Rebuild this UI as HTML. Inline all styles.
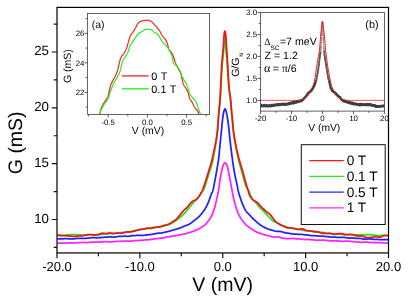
<!DOCTYPE html>
<html><head><meta charset="utf-8"><title>G vs V</title>
<style>html,body{margin:0;padding:0;background:#fff;overflow:hidden}body{width:409px;height:300px;font-family:"Liberation Sans",sans-serif}</style></head>
<body>
<svg width="409" height="300" viewBox="0 0 409 300" style="display:block">
<rect width="409" height="300" fill="#fff"/>
<defs><filter id="gs" x="0" y="0" width="409" height="300" filterUnits="userSpaceOnUse" color-interpolation-filters="sRGB"><feColorMatrix type="saturate" values="0"/></filter></defs>
<g font-family="Liberation Sans, sans-serif" fill="#000">
<rect x="87.4" y="13.55" width="122.19999999999999" height="100.95" fill="none" stroke="#484848" stroke-width="0.85"/>
<path d="M108.20,114.5 v3 M147.40,114.5 v3 M186.60,114.5 v3 M88.60,114.5 v1.8 M127.80,114.5 v1.8 M167.00,114.5 v1.8 M206.20,114.5 v1.8 M87.4,92.30 h-3 M87.4,62.80 h-3 M87.4,33.30 h-3 M87.4,107.05 h-1.8 M87.4,77.55 h-1.8 M87.4,48.05 h-1.8 M87.4,18.55 h-1.8" stroke="#333" stroke-width="0.8" fill="none"/>
<clipPath id="ca"><rect x="87.4" y="13.55" width="122.19999999999999" height="100.95"/></clipPath>
<g clip-path="url(#ca)" fill="none" stroke-width="1.2" stroke-linejoin="round">
<path d="M99.60,114.40 L99.85,113.28 L100.10,112.20 L100.35,111.18 L100.60,110.22 L100.85,109.35 L101.10,108.56 L101.35,107.87 L101.60,107.25 L101.85,106.69 L102.10,106.16 L102.35,105.68 L102.60,105.21 L102.85,104.77 L103.10,104.34 L103.35,103.91 L103.60,103.51 L103.85,103.12 L104.10,102.76 L104.35,102.41 L104.60,102.07 L104.85,101.73 L105.10,101.38 L105.35,101.02 L105.60,100.65 L105.85,100.25 L106.10,99.83 L106.35,99.41 L106.60,98.98 L106.85,98.54 L107.10,98.07 L107.35,97.56 L107.60,97.01 L107.85,96.40 L108.10,95.70 L108.35,94.81 L108.60,93.77 L108.85,92.65 L109.10,91.53 L109.35,90.50 L109.60,89.48 L109.85,88.43 L110.10,87.42 L110.35,86.46 L110.60,85.60 L110.85,84.87 L111.10,84.20 L111.35,83.57 L111.60,82.98 L111.85,82.43 L112.10,81.90 L112.35,81.39 L112.60,80.90 L112.85,80.42 L113.10,79.97 L113.35,79.56 L113.60,79.16 L113.85,78.78 L114.10,78.39 L114.35,77.98 L114.60,77.56 L114.85,77.10 L115.10,76.60 L115.35,76.10 L115.60,75.57 L115.85,75.03 L116.10,74.46 L116.35,73.87 L116.60,73.24 L116.85,72.58 L117.10,71.89 L117.35,71.15 L117.60,70.31 L117.85,69.38 L118.10,68.36 L118.35,67.31 L118.60,66.22 L118.85,65.15 L119.10,64.10 L119.35,63.10 L119.60,62.07 L119.85,60.99 L120.10,59.95 L120.35,59.01 L120.60,58.24 L120.85,57.68 L121.10,57.20 L121.35,56.77 L121.60,56.39 L121.85,56.04 L122.10,55.72 L122.35,55.43 L122.60,55.14 L122.85,54.85 L123.10,54.55 L123.35,54.24 L123.60,53.91 L123.85,53.54 L124.10,53.13 L124.35,52.72 L124.60,52.30 L124.85,51.86 L125.10,51.42 L125.35,50.96 L125.60,50.48 L125.85,49.97 L126.10,49.43 L126.35,48.86 L126.60,48.25 L126.85,47.59 L127.10,46.81 L127.35,45.94 L127.60,45.01 L127.85,44.07 L128.10,43.15 L128.35,42.26 L128.60,41.31 L128.85,40.33 L129.10,39.36 L129.35,38.43 L129.60,37.58 L129.85,36.86 L130.10,36.29 L130.35,35.79 L130.60,35.35 L130.85,34.94 L131.10,34.57 L131.35,34.22 L131.60,33.89 L131.85,33.56 L132.10,33.24 L132.35,32.92 L132.60,32.58 L132.85,32.23 L133.10,31.85 L133.35,31.46 L133.60,31.08 L133.85,30.69 L134.10,30.31 L134.35,29.92 L134.60,29.52 L134.85,29.11 L135.10,28.69 L135.35,28.26 L135.60,27.82 L135.85,27.31 L136.10,26.76 L136.35,26.20 L136.60,25.63 L136.85,25.10 L137.10,24.61 L137.35,24.20 L137.60,23.88 L137.85,23.59 L138.10,23.32 L138.35,23.06 L138.60,22.81 L138.85,22.59 L139.10,22.38 L139.35,22.18 L139.60,22.00 L139.85,21.84 L140.10,21.70 L140.35,21.57 L140.60,21.46 L140.85,21.35 L141.10,21.26 L141.35,21.16 L141.60,21.07 L141.85,20.99 L142.10,20.91 L142.35,20.84 L142.60,20.77 L142.85,20.71 L143.10,20.66 L143.35,20.61 L143.60,20.56 L143.85,20.52 L144.10,20.49 L144.35,20.45 L144.60,20.42 L144.85,20.39 L145.10,20.36 L145.35,20.33 L145.60,20.31 L145.85,20.28 L146.10,20.26 L146.35,20.24 L146.60,20.23 L146.85,20.21 L147.10,20.21 L147.35,20.20 L147.60,20.20 L147.85,20.21 L148.10,20.24 L148.35,20.28 L148.60,20.33 L148.85,20.38 L149.10,20.45 L149.35,20.53 L149.60,20.62 L149.85,20.71 L150.10,20.81 L150.35,20.91 L150.60,21.02 L150.85,21.13 L151.10,21.25 L151.35,21.41 L151.60,21.61 L151.85,21.83 L152.10,22.08 L152.35,22.34 L152.60,22.60 L152.85,22.86 L153.10,23.13 L153.35,23.43 L153.60,23.73 L153.85,24.04 L154.10,24.34 L154.35,24.63 L154.60,24.91 L154.85,25.16 L155.10,25.41 L155.35,25.65 L155.60,25.88 L155.85,26.12 L156.10,26.36 L156.35,26.62 L156.60,26.89 L156.85,27.17 L157.10,27.46 L157.35,27.76 L157.60,28.07 L157.85,28.39 L158.10,28.71 L158.35,29.04 L158.60,29.38 L158.85,29.74 L159.10,30.10 L159.35,30.47 L159.60,30.86 L159.85,31.26 L160.10,31.67 L160.35,32.14 L160.60,32.66 L160.85,33.21 L161.10,33.76 L161.35,34.30 L161.60,34.81 L161.85,35.26 L162.10,35.65 L162.35,35.99 L162.60,36.30 L162.85,36.58 L163.10,36.85 L163.35,37.10 L163.60,37.35 L163.85,37.60 L164.10,37.85 L164.35,38.11 L164.60,38.39 L164.85,38.68 L165.10,39.01 L165.35,39.38 L165.60,39.76 L165.85,40.18 L166.10,40.62 L166.35,41.10 L166.60,41.62 L166.85,42.18 L167.10,42.78 L167.35,43.44 L167.60,44.32 L167.85,45.40 L168.10,46.54 L168.35,47.60 L168.60,48.45 L168.85,49.02 L169.10,49.49 L169.35,49.90 L169.60,50.27 L169.85,50.60 L170.10,50.90 L170.35,51.19 L170.60,51.46 L170.85,51.74 L171.10,52.03 L171.35,52.33 L171.60,52.67 L171.85,53.05 L172.10,53.48 L172.35,53.94 L172.60,54.43 L172.85,54.96 L173.10,55.52 L173.35,56.12 L173.60,56.77 L173.85,57.54 L174.10,58.40 L174.35,59.32 L174.60,60.24 L174.85,61.13 L175.10,61.94 L175.35,62.63 L175.60,63.24 L175.85,63.81 L176.10,64.35 L176.35,64.86 L176.60,65.35 L176.85,65.82 L177.10,66.29 L177.35,66.75 L177.60,67.22 L177.85,67.70 L178.10,68.20 L178.35,68.66 L178.60,69.11 L178.85,69.53 L179.10,69.96 L179.35,70.39 L179.60,70.83 L179.85,71.31 L180.10,71.83 L180.35,72.40 L180.60,73.03 L180.85,73.76 L181.10,74.70 L181.35,75.78 L181.60,76.93 L181.85,78.06 L182.10,79.12 L182.35,80.24 L182.60,81.39 L182.85,82.47 L183.10,83.41 L183.35,84.12 L183.60,84.69 L183.85,85.20 L184.10,85.65 L184.35,86.06 L184.60,86.44 L184.85,86.80 L185.10,87.15 L185.35,87.50 L185.60,87.86 L185.85,88.25 L186.10,88.67 L186.35,89.07 L186.60,89.45 L186.85,89.82 L187.10,90.22 L187.35,90.64 L187.60,91.11 L187.85,91.64 L188.10,92.28 L188.35,93.19 L188.60,94.31 L188.85,95.50 L189.10,96.63 L189.35,97.58 L189.60,98.23 L189.85,98.75 L190.10,99.21 L190.35,99.61 L190.60,99.98 L190.85,100.32 L191.10,100.65 L191.35,100.99 L191.60,101.35 L191.85,101.74 L192.10,102.18 L192.35,102.66 L192.60,103.17 L192.85,103.69 L193.10,104.23 L193.35,104.77 L193.60,105.30 L193.85,105.81 L194.10,106.30 L194.35,106.75 L194.60,107.16 L194.85,107.53 L195.10,107.87 L195.35,108.18 L195.60,108.48 L195.85,108.77 L196.10,109.06 L196.35,109.36 L196.60,109.67 L196.85,110.00 L197.10,110.35 L197.35,110.75 L197.60,111.18 L197.85,111.68 L198.10,112.23 L198.35,112.82 L198.60,113.45 L198.85,114.10" stroke="#ff2020"/>
<path d="M99.60,114.40 L99.85,113.62 L100.10,112.85 L100.35,112.12 L100.60,111.41 L100.85,110.73 L101.10,110.09 L101.35,109.48 L101.60,108.92 L101.85,108.39 L102.10,107.89 L102.35,107.42 L102.60,106.98 L102.85,106.55 L103.10,106.14 L103.35,105.73 L103.60,105.34 L103.85,104.94 L104.10,104.54 L104.35,104.15 L104.60,103.78 L104.85,103.41 L105.10,103.05 L105.35,102.70 L105.60,102.34 L105.85,101.98 L106.10,101.62 L106.35,101.24 L106.60,100.86 L106.85,100.47 L107.10,100.09 L107.35,99.71 L107.60,99.33 L107.85,98.93 L108.10,98.50 L108.35,98.04 L108.60,97.52 L108.85,96.93 L109.10,96.19 L109.35,95.34 L109.60,94.43 L109.85,93.52 L110.10,92.64 L110.35,91.85 L110.60,91.11 L110.85,90.38 L111.10,89.68 L111.35,88.99 L111.60,88.32 L111.85,87.68 L112.10,87.05 L112.35,86.44 L112.60,85.83 L112.85,85.24 L113.10,84.66 L113.35,84.09 L113.60,83.54 L113.85,83.00 L114.10,82.48 L114.35,81.97 L114.60,81.49 L114.85,81.03 L115.10,80.59 L115.35,80.19 L115.60,79.80 L115.85,79.42 L116.10,79.05 L116.35,78.68 L116.60,78.30 L116.85,77.91 L117.10,77.51 L117.35,77.07 L117.60,76.61 L117.85,76.15 L118.10,75.67 L118.35,75.18 L118.60,74.67 L118.85,74.15 L119.10,73.59 L119.35,73.01 L119.60,72.38 L119.85,71.72 L120.10,71.00 L120.35,70.17 L120.60,69.24 L120.85,68.23 L121.10,67.19 L121.35,66.13 L121.60,65.10 L121.85,64.07 L122.10,62.95 L122.35,61.86 L122.60,60.97 L122.85,60.36 L123.10,59.85 L123.35,59.40 L123.60,59.01 L123.85,58.66 L124.10,58.33 L124.35,58.01 L124.60,57.70 L124.85,57.37 L125.10,57.01 L125.35,56.62 L125.60,56.22 L125.85,55.83 L126.10,55.44 L126.35,55.05 L126.60,54.65 L126.85,54.24 L127.10,53.81 L127.35,53.35 L127.60,52.86 L127.85,52.33 L128.10,51.76 L128.35,51.04 L128.60,50.22 L128.85,49.34 L129.10,48.46 L129.35,47.65 L129.60,46.94 L129.85,46.37 L130.10,45.86 L130.35,45.39 L130.60,44.95 L130.85,44.53 L131.10,44.13 L131.35,43.75 L131.60,43.37 L131.85,43.00 L132.10,42.61 L132.35,42.22 L132.60,41.83 L132.85,41.44 L133.10,41.05 L133.35,40.67 L133.60,40.29 L133.85,39.92 L134.10,39.54 L134.35,39.17 L134.60,38.81 L134.85,38.44 L135.10,38.08 L135.35,37.72 L135.60,37.35 L135.85,36.98 L136.10,36.59 L136.35,36.20 L136.60,35.81 L136.85,35.43 L137.10,35.06 L137.35,34.72 L137.60,34.41 L137.85,34.14 L138.10,33.91 L138.35,33.70 L138.60,33.51 L138.85,33.32 L139.10,33.15 L139.35,32.99 L139.60,32.84 L139.85,32.69 L140.10,32.55 L140.35,32.41 L140.60,32.27 L140.85,32.14 L141.10,32.01 L141.35,31.87 L141.60,31.73 L141.85,31.59 L142.10,31.44 L142.35,31.28 L142.60,31.11 L142.85,30.94 L143.10,30.76 L143.35,30.59 L143.60,30.41 L143.85,30.25 L144.10,30.09 L144.35,29.94 L144.60,29.81 L144.85,29.69 L145.10,29.60 L145.35,29.53 L145.60,29.48 L145.85,29.44 L146.10,29.40 L146.35,29.37 L146.60,29.33 L146.85,29.30 L147.10,29.28 L147.35,29.25 L147.60,29.23 L147.85,29.22 L148.10,29.21 L148.35,29.20 L148.60,29.20 L148.85,29.21 L149.10,29.23 L149.35,29.26 L149.60,29.30 L149.85,29.34 L150.10,29.40 L150.35,29.46 L150.60,29.52 L150.85,29.60 L151.10,29.67 L151.35,29.75 L151.60,29.84 L151.85,29.98 L152.10,30.16 L152.35,30.39 L152.60,30.64 L152.85,30.91 L153.10,31.18 L153.35,31.44 L153.60,31.68 L153.85,31.89 L154.10,32.06 L154.35,32.21 L154.60,32.34 L154.85,32.46 L155.10,32.57 L155.35,32.68 L155.60,32.80 L155.85,32.92 L156.10,33.05 L156.35,33.20 L156.60,33.37 L156.85,33.56 L157.10,33.77 L157.35,33.99 L157.60,34.24 L157.85,34.50 L158.10,34.77 L158.35,35.07 L158.60,35.37 L158.85,35.70 L159.10,36.09 L159.35,36.52 L159.60,36.99 L159.85,37.46 L160.10,37.94 L160.35,38.40 L160.60,38.84 L160.85,39.24 L161.10,39.63 L161.35,40.01 L161.60,40.40 L161.85,40.77 L162.10,41.13 L162.35,41.49 L162.60,41.83 L162.85,42.15 L163.10,42.46 L163.35,42.76 L163.60,43.03 L163.85,43.28 L164.10,43.51 L164.35,43.73 L164.60,43.95 L164.85,44.17 L165.10,44.39 L165.35,44.62 L165.60,44.86 L165.85,45.13 L166.10,45.42 L166.35,45.73 L166.60,46.05 L166.85,46.39 L167.10,46.75 L167.35,47.12 L167.60,47.50 L167.85,47.89 L168.10,48.29 L168.35,48.71 L168.60,49.13 L168.85,49.56 L169.10,50.02 L169.35,50.49 L169.60,50.99 L169.85,51.50 L170.10,52.02 L170.35,52.55 L170.60,53.09 L170.85,53.61 L171.10,54.11 L171.35,54.60 L171.60,55.11 L171.85,55.69 L172.10,56.37 L172.35,57.19 L172.60,58.61 L172.85,60.40 L173.10,61.97 L173.35,62.79 L173.60,63.22 L173.85,63.58 L174.10,63.89 L174.35,64.15 L174.60,64.37 L174.85,64.56 L175.10,64.74 L175.35,64.90 L175.60,65.06 L175.85,65.24 L176.10,65.42 L176.35,65.64 L176.60,65.89 L176.85,66.17 L177.10,66.47 L177.35,66.76 L177.60,67.07 L177.85,67.38 L178.10,67.71 L178.35,68.04 L178.60,68.39 L178.85,68.76 L179.10,69.14 L179.35,69.55 L179.60,69.97 L179.85,70.42 L180.10,70.90 L180.35,71.47 L180.60,72.12 L180.85,72.82 L181.10,73.55 L181.35,74.28 L181.60,74.99 L181.85,75.64 L182.10,76.23 L182.35,76.77 L182.60,77.30 L182.85,77.81 L183.10,78.30 L183.35,78.78 L183.60,79.25 L183.85,79.72 L184.10,80.18 L184.35,80.62 L184.60,81.04 L184.85,81.44 L185.10,81.84 L185.35,82.23 L185.60,82.63 L185.85,83.05 L186.10,83.50 L186.35,83.97 L186.60,84.48 L186.85,85.05 L187.10,85.70 L187.35,86.41 L187.60,87.16 L187.85,87.93 L188.10,88.70 L188.35,89.46 L188.60,90.29 L188.85,91.13 L189.10,91.93 L189.35,92.64 L189.60,93.21 L189.85,93.72 L190.10,94.19 L190.35,94.62 L190.60,95.03 L190.85,95.41 L191.10,95.77 L191.35,96.12 L191.60,96.46 L191.85,96.80 L192.10,97.13 L192.35,97.44 L192.60,97.73 L192.85,98.00 L193.10,98.25 L193.35,98.49 L193.60,98.73 L193.85,98.98 L194.10,99.23 L194.35,99.49 L194.60,99.77 L194.85,100.07 L195.10,100.40 L195.35,100.76 L195.60,101.17 L195.85,101.65 L196.10,102.21 L196.35,102.83 L196.60,103.49 L196.85,104.18 L197.10,104.88 L197.35,105.59 L197.60,106.28 L197.85,107.03 L198.10,107.83 L198.35,108.63 L198.60,109.40 L198.85,110.12 L199.10,110.74 L199.35,111.33 L199.60,111.90 L199.85,112.44 L200.10,112.95 L200.35,113.43 L200.60,113.87 L200.85,114.28" stroke="#20f020"/>
</g>
<path d="M121.8,75.9 H148.7" stroke="#ff2020" stroke-width="1.3"/>
<path d="M121.8,88.8 H148.7" stroke="#20f020" stroke-width="1.3"/>
<rect x="260.6" y="12.45" width="123.84999999999997" height="98.64999999999999" fill="none" stroke="#484848" stroke-width="0.85"/>
<path d="M260.58,111.1 v3 M291.54,111.1 v3 M322.50,111.1 v3 M353.46,111.1 v3 M384.42,111.1 v3 M276.06,111.1 v1.8 M307.02,111.1 v1.8 M337.98,111.1 v1.8 M368.94,111.1 v1.8 M260.6,100.50 h-3 M260.6,78.48 h-3 M260.6,56.47 h-3 M260.6,34.45 h-3 M260.6,12.44 h-3 M260.6,89.49 h-1.8 M260.6,67.48 h-1.8 M260.6,45.46 h-1.8 M260.6,23.45 h-1.8" stroke="#333" stroke-width="0.8" fill="none"/>
<clipPath id="cb"><rect x="260.6" y="12.45" width="123.84999999999997" height="98.64999999999999"/></clipPath>
<g clip-path="url(#cb)" fill="none" stroke-linejoin="round">
<path d="M320.50,52.33h0 M320.60,50.95h0 M320.70,49.79h0 M320.80,48.53h0 M320.90,47.15h0 M321.00,45.77h0 M321.10,43.48h0 M321.20,42.20h0 M321.30,40.09h0 M321.40,37.97h0 M321.50,35.51h0 M321.60,33.83h0 M321.70,31.95h0 M321.80,29.47h0 M321.90,28.73h0 M322.00,27.17h0 M322.10,25.19h0 M322.20,23.90h0 M322.30,23.56h0 M322.40,22.87h0 M322.50,22.57h0 M322.60,23.75h0 M322.70,25.04h0 M322.80,26.63h0 M322.90,27.66h0 M323.00,30.23h0 M323.10,31.52h0 M323.20,33.72h0 M323.30,35.74h0 M323.40,38.19h0 M323.50,39.91h0 M323.60,41.88h0 M323.70,44.52h0 M323.80,46.96h0 M323.90,48.38h0 M324.00,50.41h0 M324.10,51.27h0" stroke="#909090" stroke-width="2.0" stroke-linecap="round"/>
<path d="M315.70,81.84h0 M315.80,81.49h0 M315.90,80.79h0 M316.00,81.34h0 M316.10,80.76h0 M316.20,80.19h0 M316.30,80.14h0 M316.40,79.08h0 M316.50,78.90h0 M316.60,78.98h0 M316.70,78.29h0 M316.80,76.84h0 M316.90,76.01h0 M317.00,76.20h0 M317.10,76.32h0 M317.20,75.34h0 M317.30,74.87h0 M317.40,74.56h0 M317.50,73.55h0 M317.60,73.29h0 M317.70,72.86h0 M317.80,72.15h0 M317.90,71.50h0 M318.00,70.57h0 M318.10,70.25h0 M318.20,69.30h0 M318.30,69.15h0 M318.40,68.84h0 M318.50,67.16h0 M318.60,66.02h0 M318.70,65.83h0 M318.80,65.35h0 M318.90,64.79h0 M319.00,64.00h0 M319.10,62.61h0 M319.20,61.77h0 M319.30,61.53h0 M319.40,59.97h0 M319.50,59.78h0 M319.60,58.55h0 M319.70,58.03h0 M319.80,57.24h0 M319.90,56.55h0 M320.00,55.88h0 M320.10,54.66h0 M320.20,54.36h0 M320.30,53.56h0 M320.40,52.88h0 M324.20,52.10h0 M324.30,53.68h0 M324.40,53.85h0 M324.50,55.21h0 M324.60,55.51h0 M324.70,56.52h0 M324.80,56.72h0 M324.90,57.55h0 M325.00,58.82h0 M325.10,59.22h0 M325.20,59.82h0 M325.30,60.29h0 M325.40,61.15h0 M325.50,61.18h0 M325.60,61.83h0 M325.70,62.68h0 M325.80,63.04h0 M325.90,63.64h0 M326.00,64.40h0 M326.10,64.96h0 M326.20,65.53h0 M326.30,66.71h0 M326.40,67.15h0 M326.50,67.85h0 M326.60,68.12h0 M326.70,68.63h0 M326.80,69.01h0 M326.90,69.99h0 M327.00,70.13h0 M327.10,71.22h0 M327.20,72.27h0 M327.30,73.15h0 M327.40,73.56h0 M327.50,73.61h0 M327.60,74.59h0 M327.70,74.75h0 M327.80,75.76h0 M327.90,75.97h0 M328.00,76.72h0 M328.10,77.67h0 M328.20,77.59h0 M328.30,78.41h0 M328.40,78.15h0 M328.50,78.38h0 M328.60,79.25h0 M328.70,79.74h0 M328.80,79.44h0 M328.90,80.02h0 M329.00,79.98h0 M329.10,80.77h0 M329.20,81.54h0 M329.30,81.69h0" stroke="#5a5a5a" stroke-width="2.1" stroke-linecap="round"/>
<path d="M260.60,106.01h0 M260.70,104.65h0 M260.80,105.56h0 M260.90,105.28h0 M261.00,105.33h0 M261.10,105.42h0 M261.20,104.89h0 M261.30,105.44h0 M261.40,105.27h0 M261.50,106.54h0 M261.60,105.63h0 M261.70,105.47h0 M261.80,105.50h0 M261.90,105.40h0 M262.00,105.30h0 M262.10,105.51h0 M262.20,105.79h0 M262.30,105.59h0 M262.40,105.96h0 M262.50,105.62h0 M262.60,105.70h0 M262.70,106.17h0 M262.80,105.89h0 M262.90,105.58h0 M263.00,105.69h0 M263.10,105.92h0 M263.20,106.35h0 M263.30,105.70h0 M263.40,105.72h0 M263.50,106.10h0 M263.60,105.55h0 M263.70,105.74h0 M263.80,106.10h0 M263.90,106.02h0 M264.00,105.88h0 M264.10,106.06h0 M264.20,105.02h0 M264.30,106.19h0 M264.40,105.60h0 M264.50,105.40h0 M264.60,105.99h0 M264.70,106.12h0 M264.80,105.79h0 M264.90,105.60h0 M265.00,105.94h0 M265.10,105.92h0 M265.20,106.37h0 M265.30,106.18h0 M265.40,106.01h0 M265.50,106.29h0 M265.60,105.90h0 M265.70,105.69h0 M265.80,106.15h0 M265.90,106.15h0 M266.00,105.92h0 M266.10,105.75h0 M266.20,106.06h0 M266.30,105.24h0 M266.40,106.20h0 M266.50,106.14h0 M266.60,105.51h0 M266.70,106.02h0 M266.80,105.71h0 M266.90,106.23h0 M267.00,105.39h0 M267.10,105.73h0 M267.20,106.21h0 M267.30,106.34h0 M267.40,105.35h0 M267.50,105.84h0 M267.60,106.09h0 M267.70,105.81h0 M267.80,106.46h0 M267.90,105.62h0 M268.00,106.08h0 M268.10,105.66h0 M268.20,106.39h0 M268.30,105.95h0 M268.40,105.84h0 M268.50,105.43h0 M268.60,106.45h0 M268.70,106.16h0 M268.80,106.15h0 M268.90,106.26h0 M269.00,106.02h0 M269.10,105.71h0 M269.20,105.65h0 M269.30,105.65h0 M269.40,106.29h0 M269.50,105.43h0 M269.60,105.68h0 M269.70,105.75h0 M269.80,105.90h0 M269.90,106.00h0 M270.00,105.44h0 M270.10,105.28h0 M270.20,105.79h0 M270.30,106.14h0 M270.40,105.99h0 M270.50,105.82h0 M270.60,105.64h0 M270.70,105.81h0 M270.80,105.64h0 M270.90,105.95h0 M271.00,105.45h0 M271.10,105.71h0 M271.20,105.63h0 M271.30,105.81h0 M271.40,105.70h0 M271.50,106.38h0 M271.60,106.05h0 M271.70,106.04h0 M271.80,104.96h0 M271.90,105.45h0 M272.00,105.36h0 M272.10,105.69h0 M272.20,104.83h0 M272.30,105.85h0 M272.40,105.80h0 M272.50,105.07h0 M272.60,105.15h0 M272.70,105.19h0 M272.80,105.43h0 M272.90,105.59h0 M273.00,106.00h0 M273.10,105.31h0 M273.20,105.58h0 M273.30,105.38h0 M273.40,105.85h0 M273.50,105.53h0 M273.60,105.70h0 M273.70,104.95h0 M273.80,105.20h0 M273.90,104.99h0 M274.00,105.67h0 M274.10,105.40h0 M274.20,105.10h0 M274.30,105.04h0 M274.40,105.30h0 M274.50,104.93h0 M274.60,104.85h0 M274.70,105.25h0 M274.80,105.83h0 M274.90,105.00h0 M275.00,104.90h0 M275.10,104.70h0 M275.20,104.63h0 M275.30,105.17h0 M275.40,105.26h0 M275.50,104.99h0 M275.60,105.07h0 M275.70,104.99h0 M275.80,104.98h0 M275.90,104.47h0 M276.00,104.78h0 M276.10,104.93h0 M276.20,104.65h0 M276.30,104.73h0 M276.40,104.61h0 M276.50,104.74h0 M276.60,105.09h0 M276.70,104.70h0 M276.80,104.76h0 M276.90,105.04h0 M277.00,104.97h0 M277.10,105.28h0 M277.20,104.13h0 M277.30,105.00h0 M277.40,104.59h0 M277.50,104.76h0 M277.60,104.97h0 M277.70,105.03h0 M277.80,105.01h0 M277.90,104.73h0 M278.00,105.16h0 M278.10,104.58h0 M278.20,104.61h0 M278.30,104.89h0 M278.40,104.47h0 M278.50,105.28h0 M278.60,104.93h0 M278.70,105.27h0 M278.80,104.60h0 M278.90,104.49h0 M279.00,104.65h0 M279.10,104.81h0 M279.20,104.41h0 M279.30,104.70h0 M279.40,104.57h0 M279.50,105.06h0 M279.60,104.37h0 M279.70,104.88h0 M279.80,104.37h0 M279.90,104.27h0 M280.00,104.34h0 M280.10,104.19h0 M280.20,104.59h0 M280.30,104.85h0 M280.40,104.59h0 M280.50,104.72h0 M280.60,105.02h0 M280.70,104.61h0 M280.80,104.58h0 M280.90,104.44h0 M281.00,104.04h0 M281.10,104.74h0 M281.20,103.99h0 M281.30,104.71h0 M281.40,104.50h0 M281.50,104.84h0 M281.60,104.48h0 M281.70,104.25h0 M281.80,104.60h0 M281.90,104.32h0 M282.00,104.43h0 M282.10,104.50h0 M282.20,104.44h0 M282.30,104.42h0 M282.40,104.22h0 M282.50,104.41h0 M282.60,103.83h0 M282.70,104.42h0 M282.80,104.10h0 M282.90,104.79h0 M283.00,104.83h0 M283.10,103.86h0 M283.20,104.49h0 M283.30,104.40h0 M283.40,104.12h0 M283.50,104.59h0 M283.60,104.28h0 M283.70,103.89h0 M283.80,104.33h0 M283.90,104.36h0 M284.00,104.43h0 M284.10,104.02h0 M284.20,104.57h0 M284.30,104.60h0 M284.40,104.03h0 M284.50,104.17h0 M284.60,104.33h0 M284.70,104.18h0 M284.80,104.86h0 M284.90,104.39h0 M285.00,104.01h0 M285.10,104.07h0 M285.20,104.28h0 M285.30,104.97h0 M285.40,104.22h0 M285.50,104.30h0 M285.60,104.40h0 M285.70,104.22h0 M285.80,104.91h0 M285.90,104.05h0 M286.00,104.42h0 M286.10,104.23h0 M286.20,104.35h0 M286.30,103.80h0 M286.40,104.67h0 M286.50,104.09h0 M286.60,104.12h0 M286.70,103.81h0 M286.80,103.86h0 M286.90,104.23h0 M287.00,104.34h0 M287.10,104.25h0 M287.20,104.37h0 M287.30,104.21h0 M287.40,103.99h0 M287.50,104.21h0 M287.60,104.12h0 M287.70,103.90h0 M287.80,104.13h0 M287.90,104.28h0 M288.00,103.94h0 M288.10,103.75h0 M288.20,104.05h0 M288.30,104.39h0 M288.40,103.74h0 M288.50,103.75h0 M288.60,103.72h0 M288.70,104.11h0 M288.80,103.17h0 M288.90,103.82h0 M289.00,104.04h0 M289.10,103.42h0 M289.20,104.10h0 M289.30,103.79h0 M289.40,103.45h0 M289.50,103.65h0 M289.60,103.11h0 M289.70,103.38h0 M289.80,104.08h0 M289.90,103.25h0 M290.00,104.05h0 M290.10,103.45h0 M290.20,103.76h0 M290.30,103.45h0 M290.40,102.75h0 M290.50,103.23h0 M290.60,103.44h0 M290.70,103.02h0 M290.80,102.94h0 M290.90,103.43h0 M291.00,103.11h0 M291.10,102.77h0 M291.20,103.05h0 M291.30,103.50h0 M291.40,103.07h0 M291.50,103.48h0 M291.60,103.63h0 M291.70,103.16h0 M291.80,102.79h0 M291.90,102.72h0 M292.00,103.07h0 M292.10,103.32h0 M292.20,103.12h0 M292.30,103.18h0 M292.40,102.86h0 M292.50,103.05h0 M292.60,102.80h0 M292.70,102.82h0 M292.80,102.50h0 M292.90,102.39h0 M293.00,102.70h0 M293.10,102.48h0 M293.20,102.50h0 M293.30,102.97h0 M293.40,102.71h0 M293.50,103.59h0 M293.60,102.97h0 M293.70,102.47h0 M293.80,102.87h0 M293.90,102.72h0 M294.00,102.38h0 M294.10,102.89h0 M294.20,102.30h0 M294.30,101.59h0 M294.40,102.72h0 M294.50,102.27h0 M294.60,102.87h0 M294.70,102.21h0 M294.80,102.02h0 M294.90,102.81h0 M295.00,102.00h0 M295.10,102.36h0 M295.20,102.70h0 M295.30,102.28h0 M295.40,102.19h0 M295.50,102.22h0 M295.60,102.41h0 M295.70,101.89h0 M295.80,102.29h0 M295.90,102.26h0 M296.00,102.76h0 M296.10,101.93h0 M296.20,101.73h0 M296.30,102.20h0 M296.40,101.83h0 M296.50,102.01h0 M296.60,101.94h0 M296.70,102.23h0 M296.80,101.65h0 M296.90,101.80h0 M297.00,101.03h0 M297.10,101.51h0 M297.20,102.21h0 M297.30,101.52h0 M297.40,101.49h0 M297.50,101.31h0 M297.60,101.83h0 M297.70,101.69h0 M297.80,101.26h0 M297.90,101.79h0 M298.00,101.65h0 M298.10,101.77h0 M298.20,101.33h0 M298.30,102.02h0 M298.40,101.60h0 M298.50,101.42h0 M298.60,101.28h0 M298.70,101.34h0 M298.80,101.65h0 M298.90,101.29h0 M299.00,101.67h0 M299.10,101.50h0 M299.20,101.70h0 M299.30,101.52h0 M299.40,101.23h0 M299.50,100.65h0 M299.60,101.29h0 M299.70,101.41h0 M299.80,101.20h0 M299.90,101.29h0 M300.00,100.95h0 M300.10,100.95h0 M300.20,100.75h0 M300.30,101.41h0 M300.40,101.02h0 M300.50,100.79h0 M300.60,100.51h0 M300.70,100.83h0 M300.80,101.27h0 M300.90,100.94h0 M301.00,100.54h0 M301.10,101.15h0 M301.20,101.11h0 M301.30,100.93h0 M301.40,100.82h0 M301.50,100.88h0 M301.60,100.65h0 M301.70,100.66h0 M301.80,100.14h0 M301.90,100.77h0 M302.00,100.33h0 M302.10,100.81h0 M302.20,99.53h0 M302.30,100.29h0 M302.40,100.30h0 M302.50,99.84h0 M302.60,100.01h0 M302.70,100.03h0 M302.80,99.91h0 M302.90,99.50h0 M303.00,99.54h0 M303.10,99.82h0 M303.20,99.82h0 M303.30,99.39h0 M303.40,99.30h0 M303.50,99.26h0 M303.60,99.43h0 M303.70,98.72h0 M303.80,98.54h0 M303.90,98.89h0 M304.00,98.42h0 M304.10,98.47h0 M304.20,98.57h0 M304.30,98.59h0 M304.40,98.01h0 M304.50,98.46h0 M304.60,97.57h0 M304.70,98.15h0 M304.80,97.40h0 M304.90,97.37h0 M305.00,97.82h0 M305.10,97.38h0 M305.20,97.14h0 M305.30,97.12h0 M305.40,97.27h0 M305.50,96.99h0 M305.60,96.87h0 M305.70,97.07h0 M305.80,96.41h0 M305.90,96.36h0 M306.00,96.22h0 M306.10,96.60h0 M306.20,96.42h0 M306.30,96.38h0 M306.40,95.85h0 M306.50,95.67h0 M306.60,95.83h0 M306.70,95.32h0 M306.80,95.54h0 M306.90,95.36h0 M307.00,94.79h0 M307.10,94.83h0 M307.20,94.67h0 M307.30,95.08h0 M307.40,95.20h0 M307.50,94.25h0 M307.60,94.15h0 M307.70,93.33h0 M307.80,93.95h0 M307.90,93.76h0 M308.00,93.33h0 M308.10,93.77h0 M308.20,92.96h0 M308.30,93.26h0 M308.40,93.26h0 M308.50,92.74h0 M308.60,93.27h0 M308.70,93.24h0 M308.80,92.41h0 M308.90,92.31h0 M309.00,92.81h0 M309.10,92.53h0 M309.20,92.08h0 M309.30,92.27h0 M309.40,92.23h0 M309.50,92.13h0 M309.60,92.33h0 M309.70,92.10h0 M309.80,92.42h0 M309.90,92.21h0 M310.00,91.90h0 M310.10,91.93h0 M310.20,91.91h0 M310.30,91.63h0 M310.40,90.96h0 M310.50,91.50h0 M310.60,91.17h0 M310.70,91.55h0 M310.80,91.00h0 M310.90,91.04h0 M311.00,90.89h0 M311.10,91.21h0 M311.20,90.66h0 M311.30,90.43h0 M311.40,90.51h0 M311.50,90.18h0 M311.60,90.26h0 M311.70,90.10h0 M311.80,90.07h0 M311.90,90.45h0 M312.00,89.63h0 M312.10,89.63h0 M312.20,89.43h0 M312.30,89.55h0 M312.40,88.85h0 M312.50,88.85h0 M312.60,88.89h0 M312.70,88.90h0 M312.80,88.56h0 M312.90,88.25h0 M313.00,87.97h0 M313.10,88.21h0 M313.20,88.30h0 M313.30,87.78h0 M313.40,87.55h0 M313.50,87.44h0 M313.60,86.82h0 M313.70,86.81h0 M313.80,86.62h0 M313.90,86.59h0 M314.00,86.28h0 M314.10,85.72h0 M314.20,86.20h0 M314.30,86.15h0 M314.40,85.34h0 M314.50,85.31h0 M314.60,85.04h0 M314.70,84.95h0 M314.80,84.03h0 M314.90,84.71h0 M315.00,83.82h0 M315.10,84.08h0 M315.20,83.45h0 M315.30,83.03h0 M315.40,82.82h0 M315.50,82.83h0 M315.60,82.00h0 M329.40,82.01h0 M329.50,82.22h0 M329.60,83.23h0 M329.70,83.83h0 M329.80,84.24h0 M329.90,84.60h0 M330.00,84.60h0 M330.10,85.96h0 M330.20,85.86h0 M330.30,86.26h0 M330.40,86.93h0 M330.50,86.46h0 M330.60,87.45h0 M330.70,87.78h0 M330.80,88.25h0 M330.90,88.83h0 M331.00,88.83h0 M331.10,88.36h0 M331.20,89.00h0 M331.30,89.33h0 M331.40,89.47h0 M331.50,89.19h0 M331.60,89.22h0 M331.70,90.02h0 M331.80,90.10h0 M331.90,90.12h0 M332.00,89.73h0 M332.10,90.90h0 M332.20,89.61h0 M332.30,90.48h0 M332.40,91.32h0 M332.50,90.75h0 M332.60,90.96h0 M332.70,90.63h0 M332.80,91.49h0 M332.90,90.78h0 M333.00,91.33h0 M333.10,91.38h0 M333.20,91.11h0 M333.30,91.77h0 M333.40,91.16h0 M333.50,91.46h0 M333.60,91.73h0 M333.70,91.70h0 M333.80,92.04h0 M333.90,92.25h0 M334.00,91.96h0 M334.10,91.97h0 M334.20,92.05h0 M334.30,92.18h0 M334.40,92.61h0 M334.50,92.39h0 M334.60,92.66h0 M334.70,92.60h0 M334.80,92.46h0 M334.90,93.07h0 M335.00,92.59h0 M335.10,93.00h0 M335.20,93.55h0 M335.30,92.87h0 M335.40,93.28h0 M335.50,92.93h0 M335.60,93.35h0 M335.70,93.15h0 M335.80,93.60h0 M335.90,93.64h0 M336.00,93.95h0 M336.10,94.48h0 M336.20,94.19h0 M336.30,94.41h0 M336.40,94.30h0 M336.50,94.34h0 M336.60,94.26h0 M336.70,94.08h0 M336.80,94.74h0 M336.90,95.31h0 M337.00,95.06h0 M337.10,94.86h0 M337.20,95.62h0 M337.30,95.09h0 M337.40,95.14h0 M337.50,95.06h0 M337.60,95.23h0 M337.70,95.55h0 M337.80,96.32h0 M337.90,95.76h0 M338.00,95.61h0 M338.10,95.84h0 M338.20,96.05h0 M338.30,95.71h0 M338.40,96.36h0 M338.50,96.63h0 M338.60,96.61h0 M338.70,96.79h0 M338.80,96.32h0 M338.90,96.29h0 M339.00,97.29h0 M339.10,97.33h0 M339.20,96.63h0 M339.30,97.26h0 M339.40,97.30h0 M339.50,97.56h0 M339.60,97.56h0 M339.70,97.45h0 M339.80,97.77h0 M339.90,97.86h0 M340.00,97.90h0 M340.10,97.47h0 M340.20,97.23h0 M340.30,98.00h0 M340.40,97.85h0 M340.50,98.52h0 M340.60,98.76h0 M340.70,98.73h0 M340.80,98.64h0 M340.90,98.88h0 M341.00,99.31h0 M341.10,98.84h0 M341.20,99.43h0 M341.30,99.47h0 M341.40,99.43h0 M341.50,99.88h0 M341.60,99.32h0 M341.70,99.91h0 M341.80,99.43h0 M341.90,99.57h0 M342.00,99.56h0 M342.10,100.10h0 M342.20,99.76h0 M342.30,100.13h0 M342.40,99.85h0 M342.50,100.58h0 M342.60,100.87h0 M342.70,100.45h0 M342.80,100.94h0 M342.90,100.67h0 M343.00,101.20h0 M343.10,100.63h0 M343.20,100.19h0 M343.30,101.15h0 M343.40,100.72h0 M343.50,100.49h0 M343.60,100.66h0 M343.70,100.41h0 M343.80,100.89h0 M343.90,100.67h0 M344.00,101.48h0 M344.10,101.28h0 M344.20,100.62h0 M344.30,100.71h0 M344.40,101.03h0 M344.50,100.67h0 M344.60,101.25h0 M344.70,101.31h0 M344.80,101.13h0 M344.90,101.24h0 M345.00,101.59h0 M345.10,101.90h0 M345.20,101.96h0 M345.30,101.56h0 M345.40,101.84h0 M345.50,101.40h0 M345.60,101.78h0 M345.70,101.40h0 M345.80,101.94h0 M345.90,101.38h0 M346.00,101.50h0 M346.10,101.82h0 M346.20,102.02h0 M346.30,101.45h0 M346.40,101.75h0 M346.50,101.98h0 M346.60,102.04h0 M346.70,101.75h0 M346.80,102.06h0 M346.90,101.98h0 M347.00,102.51h0 M347.10,102.29h0 M347.20,101.75h0 M347.30,101.52h0 M347.40,102.24h0 M347.50,102.59h0 M347.60,102.31h0 M347.70,102.55h0 M347.80,102.17h0 M347.90,101.94h0 M348.00,102.60h0 M348.10,102.43h0 M348.20,102.63h0 M348.30,102.04h0 M348.40,102.54h0 M348.50,102.32h0 M348.60,102.78h0 M348.70,102.39h0 M348.80,102.40h0 M348.90,102.44h0 M349.00,103.02h0 M349.10,102.67h0 M349.20,102.46h0 M349.30,102.41h0 M349.40,102.42h0 M349.50,103.20h0 M349.60,102.24h0 M349.70,102.56h0 M349.80,103.03h0 M349.90,103.21h0 M350.00,102.84h0 M350.10,103.14h0 M350.20,103.16h0 M350.30,103.25h0 M350.40,102.99h0 M350.50,103.50h0 M350.60,103.09h0 M350.70,103.51h0 M350.80,102.74h0 M350.90,103.38h0 M351.00,102.74h0 M351.10,102.69h0 M351.20,103.31h0 M351.30,102.93h0 M351.40,103.34h0 M351.50,102.91h0 M351.60,103.73h0 M351.70,103.27h0 M351.80,102.95h0 M351.90,103.36h0 M352.00,103.60h0 M352.10,103.12h0 M352.20,103.53h0 M352.30,104.01h0 M352.40,103.67h0 M352.50,103.43h0 M352.60,103.28h0 M352.70,103.65h0 M352.80,103.04h0 M352.90,102.60h0 M353.00,103.33h0 M353.10,103.23h0 M353.20,104.09h0 M353.30,103.63h0 M353.40,103.31h0 M353.50,103.28h0 M353.60,103.79h0 M353.70,103.41h0 M353.80,103.50h0 M353.90,103.67h0 M354.00,103.74h0 M354.10,103.76h0 M354.20,103.79h0 M354.30,104.16h0 M354.40,104.30h0 M354.50,103.31h0 M354.60,104.59h0 M354.70,103.88h0 M354.80,104.23h0 M354.90,103.65h0 M355.00,103.99h0 M355.10,103.97h0 M355.20,103.96h0 M355.30,104.20h0 M355.40,104.15h0 M355.50,103.68h0 M355.60,103.97h0 M355.70,104.24h0 M355.80,104.24h0 M355.90,103.96h0 M356.00,103.99h0 M356.10,104.05h0 M356.20,103.78h0 M356.30,103.75h0 M356.40,104.62h0 M356.50,104.05h0 M356.60,104.22h0 M356.70,103.98h0 M356.80,104.61h0 M356.90,104.77h0 M357.00,104.20h0 M357.10,104.43h0 M357.20,104.07h0 M357.30,104.84h0 M357.40,104.61h0 M357.50,104.10h0 M357.60,104.74h0 M357.70,104.49h0 M357.80,104.53h0 M357.90,104.52h0 M358.00,104.23h0 M358.10,104.29h0 M358.20,104.65h0 M358.30,104.47h0 M358.40,104.21h0 M358.50,105.12h0 M358.60,104.46h0 M358.70,104.37h0 M358.80,104.34h0 M358.90,104.77h0 M359.00,104.87h0 M359.10,104.66h0 M359.20,104.86h0 M359.30,104.16h0 M359.40,104.51h0 M359.50,104.49h0 M359.60,104.65h0 M359.70,104.80h0 M359.80,104.05h0 M359.90,105.61h0 M360.00,104.42h0 M360.10,104.79h0 M360.20,104.94h0 M360.30,104.95h0 M360.40,104.77h0 M360.50,103.83h0 M360.60,104.38h0 M360.70,104.94h0 M360.80,104.44h0 M360.90,104.40h0 M361.00,104.01h0 M361.10,105.08h0 M361.20,104.87h0 M361.30,104.45h0 M361.40,104.67h0 M361.50,104.68h0 M361.60,104.38h0 M361.70,104.63h0 M361.80,104.79h0 M361.90,104.88h0 M362.00,105.09h0 M362.10,104.72h0 M362.20,104.57h0 M362.30,104.83h0 M362.40,104.52h0 M362.50,104.33h0 M362.60,105.05h0 M362.70,104.59h0 M362.80,104.74h0 M362.90,104.90h0 M363.00,104.37h0 M363.10,104.90h0 M363.20,104.84h0 M363.30,104.68h0 M363.40,104.82h0 M363.50,104.48h0 M363.60,104.04h0 M363.70,104.62h0 M363.80,104.43h0 M363.90,104.97h0 M364.00,104.78h0 M364.10,104.55h0 M364.20,104.72h0 M364.30,105.11h0 M364.40,105.05h0 M364.50,104.82h0 M364.60,104.83h0 M364.70,104.62h0 M364.80,104.67h0 M364.90,104.88h0 M365.00,104.67h0 M365.10,104.79h0 M365.20,104.37h0 M365.30,104.20h0 M365.40,104.20h0 M365.50,104.57h0 M365.60,105.10h0 M365.70,105.06h0 M365.80,104.41h0 M365.90,104.24h0 M366.00,104.94h0 M366.10,104.84h0 M366.20,104.29h0 M366.30,105.02h0 M366.40,104.76h0 M366.50,105.10h0 M366.60,104.81h0 M366.70,104.97h0 M366.80,104.80h0 M366.90,104.42h0 M367.00,104.63h0 M367.10,104.50h0 M367.20,104.95h0 M367.30,104.41h0 M367.40,104.24h0 M367.50,104.91h0 M367.60,105.05h0 M367.70,105.14h0 M367.80,105.03h0 M367.90,104.25h0 M368.00,104.49h0 M368.10,104.54h0 M368.20,104.70h0 M368.30,104.06h0 M368.40,104.70h0 M368.50,104.79h0 M368.60,104.42h0 M368.70,104.74h0 M368.80,105.06h0 M368.90,104.72h0 M369.00,105.02h0 M369.10,105.01h0 M369.20,104.83h0 M369.30,104.83h0 M369.40,104.61h0 M369.50,105.10h0 M369.60,104.59h0 M369.70,104.53h0 M369.80,104.96h0 M369.90,104.54h0 M370.00,104.90h0 M370.10,105.10h0 M370.20,104.82h0 M370.30,104.84h0 M370.40,105.10h0 M370.50,105.07h0 M370.60,104.40h0 M370.70,104.48h0 M370.80,105.29h0 M370.90,105.03h0 M371.00,104.31h0 M371.10,104.55h0 M371.20,104.98h0 M371.30,104.70h0 M371.40,105.16h0 M371.50,105.07h0 M371.60,105.21h0 M371.70,104.74h0 M371.80,105.30h0 M371.90,105.73h0 M372.00,104.92h0 M372.10,105.58h0 M372.20,105.51h0 M372.30,105.43h0 M372.40,105.25h0 M372.50,104.95h0 M372.60,105.06h0 M372.70,105.58h0 M372.80,105.67h0 M372.90,105.77h0 M373.00,105.72h0 M373.10,105.73h0 M373.20,105.36h0 M373.30,105.15h0 M373.40,105.60h0 M373.50,105.72h0 M373.60,105.62h0 M373.70,105.17h0 M373.80,105.50h0 M373.90,105.24h0 M374.00,105.75h0 M374.10,105.42h0 M374.20,105.72h0 M374.30,105.89h0 M374.40,105.86h0 M374.50,106.26h0 M374.60,105.54h0 M374.70,105.24h0 M374.80,106.21h0 M374.90,106.37h0 M375.00,106.41h0 M375.10,106.09h0 M375.20,106.19h0 M375.30,106.09h0 M375.40,105.68h0 M375.50,105.92h0 M375.60,106.27h0 M375.70,105.96h0 M375.80,106.73h0 M375.90,105.72h0 M376.00,106.07h0 M376.10,106.55h0 M376.20,106.05h0 M376.30,105.91h0 M376.40,105.86h0 M376.50,106.07h0 M376.60,106.75h0 M376.70,106.44h0 M376.80,106.48h0 M376.90,106.19h0 M377.00,106.61h0 M377.10,106.40h0 M377.20,106.10h0 M377.30,106.25h0 M377.40,106.45h0 M377.50,106.75h0 M377.60,106.38h0 M377.70,106.55h0 M377.80,107.01h0 M377.90,106.17h0 M378.00,106.04h0 M378.10,106.70h0 M378.20,106.54h0 M378.30,106.38h0 M378.40,106.49h0 M378.50,106.31h0 M378.60,106.56h0 M378.70,106.30h0 M378.80,106.64h0 M378.90,106.05h0 M379.00,106.15h0 M379.10,106.43h0 M379.20,106.25h0 M379.30,106.60h0 M379.40,106.38h0 M379.50,106.22h0 M379.60,106.44h0 M379.70,106.22h0 M379.80,105.91h0 M379.90,106.03h0 M380.00,106.12h0 M380.10,106.22h0 M380.20,106.38h0 M380.30,106.62h0 M380.40,106.51h0 M380.50,106.87h0 M380.60,106.71h0 M380.70,106.27h0 M380.80,106.81h0 M380.90,106.66h0 M381.00,106.16h0 M381.10,106.39h0 M381.20,106.61h0 M381.30,106.35h0 M381.40,106.57h0 M381.50,106.38h0 M381.60,106.46h0 M381.70,106.14h0 M381.80,106.34h0 M381.90,106.11h0 M382.00,106.41h0 M382.10,105.69h0 M382.20,106.28h0 M382.30,106.54h0 M382.40,106.33h0 M382.50,106.14h0 M382.60,106.29h0 M382.70,105.86h0 M382.80,105.85h0 M382.90,105.98h0 M383.00,106.03h0 M383.10,106.35h0 M383.20,105.77h0 M383.30,106.33h0 M383.40,105.54h0 M383.50,105.76h0 M383.60,105.97h0 M383.70,106.31h0 M383.80,105.76h0 M383.90,105.28h0 M384.00,106.03h0 M384.10,105.88h0 M384.20,105.54h0 M384.30,105.53h0 M384.40,105.62h0" stroke="#3d3d3d" stroke-width="2.3" stroke-linecap="round"/>
<path d="M260.60,100.40 L260.85,100.40 L261.10,100.40 L261.35,100.40 L261.60,100.40 L261.85,100.40 L262.10,100.40 L262.35,100.40 L262.60,100.40 L262.85,100.40 L263.10,100.40 L263.35,100.40 L263.60,100.40 L263.85,100.40 L264.10,100.40 L264.35,100.40 L264.60,100.40 L264.85,100.40 L265.10,100.40 L265.35,100.40 L265.60,100.40 L265.85,100.40 L266.10,100.40 L266.35,100.40 L266.60,100.40 L266.85,100.40 L267.10,100.40 L267.35,100.40 L267.60,100.40 L267.85,100.40 L268.10,100.40 L268.35,100.40 L268.60,100.40 L268.85,100.40 L269.10,100.40 L269.35,100.40 L269.60,100.40 L269.85,100.40 L270.10,100.40 L270.35,100.40 L270.60,100.40 L270.85,100.40 L271.10,100.40 L271.35,100.40 L271.60,100.40 L271.85,100.40 L272.10,100.40 L272.35,100.40 L272.60,100.40 L272.85,100.40 L273.10,100.40 L273.35,100.40 L273.60,100.40 L273.85,100.40 L274.10,100.40 L274.35,100.40 L274.60,100.40 L274.85,100.40 L275.10,100.40 L275.35,100.40 L275.60,100.40 L275.85,100.40 L276.10,100.40 L276.35,100.40 L276.60,100.40 L276.85,100.40 L277.10,100.40 L277.35,100.40 L277.60,100.40 L277.85,100.40 L278.10,100.40 L278.35,100.40 L278.60,100.40 L278.85,100.40 L279.10,100.40 L279.35,100.40 L279.60,100.40 L279.85,100.40 L280.10,100.40 L280.35,100.40 L280.60,100.40 L280.85,100.40 L281.10,100.40 L281.35,100.40 L281.60,100.40 L281.85,100.40 L282.10,100.40 L282.35,100.40 L282.60,100.40 L282.85,100.40 L283.10,100.40 L283.35,100.40 L283.60,100.40 L283.85,100.40 L284.10,100.40 L284.35,100.40 L284.60,100.40 L284.85,100.40 L285.10,100.40 L285.35,100.40 L285.60,100.40 L285.85,100.40 L286.10,100.40 L286.35,100.40 L286.60,100.40 L286.85,100.40 L287.10,100.40 L287.35,100.40 L287.60,100.40 L287.85,100.40 L288.10,100.40 L288.35,100.40 L288.60,100.40 L288.85,100.40 L289.10,100.40 L289.35,100.40 L289.60,100.40 L289.85,100.40 L290.10,100.40 L290.35,100.40 L290.60,100.40 L290.85,100.40 L291.10,100.40 L291.35,100.40 L291.60,100.40 L291.85,100.40 L292.10,100.40 L292.35,100.40 L292.60,100.40 L292.85,100.40 L293.10,100.40 L293.35,100.40 L293.60,100.40 L293.85,100.40 L294.10,100.40 L294.35,100.40 L294.60,100.40 L294.85,100.40 L295.10,100.40 L295.35,100.40 L295.60,100.40 L295.85,100.40 L296.10,100.40 L296.35,100.40 L296.60,100.40 L296.85,100.40 L297.10,100.40 L297.35,100.40 L297.60,100.40 L297.85,100.40 L298.10,100.40 L298.35,100.40 L298.60,100.40 L298.85,100.40 L299.10,100.40 L299.35,100.40 L299.60,100.40 L299.85,100.39 L300.10,100.36 L300.35,100.32 L300.60,100.26 L300.85,100.18 L301.10,100.09 L301.35,99.99 L301.60,99.89 L301.85,99.77 L302.10,99.65 L302.35,99.52 L302.60,99.38 L302.85,99.25 L303.10,99.11 L303.35,98.98 L303.60,98.85 L303.85,98.70 L304.10,98.55 L304.35,98.38 L304.60,98.21 L304.85,98.02 L305.10,97.82 L305.35,97.62 L305.60,97.40 L305.85,97.17 L306.10,96.94 L306.35,96.70 L306.60,96.45 L306.85,96.19 L307.10,95.93 L307.35,95.65 L307.60,95.37 L307.85,95.06 L308.10,94.73 L308.35,94.37 L308.60,94.00 L308.85,93.61 L309.10,93.21 L309.35,92.80 L309.60,92.38 L309.85,91.96 L310.10,91.53 L310.35,91.09 L310.60,90.63 L310.85,90.16 L311.10,89.67 L311.35,89.17 L311.60,88.65 L311.85,88.12 L312.10,87.58 L312.35,87.04 L312.60,86.49 L312.85,85.92 L313.10,85.31 L313.35,84.64 L313.60,83.90 L313.85,83.07 L314.10,82.13 L314.35,81.10 L314.60,79.97 L314.85,78.76 L315.10,77.46 L315.35,75.95 L315.60,74.26 L315.85,72.44 L316.10,70.58 L316.35,68.72 L316.60,66.93 L316.85,65.28 L317.10,63.72 L317.35,62.20 L317.60,60.71 L317.85,59.25 L318.10,57.80 L318.35,56.46 L318.60,55.25 L318.85,54.04 L319.10,52.70 L319.35,51.12 L319.60,49.09 L319.85,46.04 L320.10,42.56 L320.35,39.43 L320.60,36.66 L320.85,34.02 L321.10,31.35 L321.35,28.64 L321.60,26.15 L321.85,24.13 L322.10,22.21 L322.35,21.04 L322.60,21.61 L322.85,23.39 L323.10,25.19 L323.35,27.08 L323.60,29.14 L323.85,31.31 L324.10,33.50 L324.35,35.69 L324.60,37.98 L324.85,40.55 L325.10,43.73 L325.35,47.11 L325.60,50.00 L325.85,52.22 L326.10,54.14 L326.35,55.94 L326.60,57.80 L326.85,59.81 L327.10,61.86 L327.35,63.83 L327.60,65.60 L327.85,67.17 L328.10,68.62 L328.35,69.98 L328.60,71.28 L328.85,72.56 L329.10,73.85 L329.35,75.17 L329.60,76.58 L329.85,78.07 L330.10,79.50 L330.35,80.71 L330.60,81.84 L330.85,82.92 L331.10,83.93 L331.35,84.87 L331.60,85.73 L331.85,86.50 L332.10,87.21 L332.35,87.90 L332.60,88.55 L332.85,89.16 L333.10,89.75 L333.35,90.30 L333.60,90.82 L333.85,91.31 L334.10,91.76 L334.35,92.19 L334.60,92.58 L334.85,92.96 L335.10,93.31 L335.35,93.65 L335.60,93.98 L335.85,94.29 L336.10,94.58 L336.35,94.87 L336.60,95.14 L336.85,95.40 L337.10,95.66 L337.35,95.91 L337.60,96.15 L337.85,96.39 L338.10,96.64 L338.35,96.87 L338.60,97.11 L338.85,97.34 L339.10,97.57 L339.35,97.79 L339.60,97.99 L339.85,98.19 L340.10,98.37 L340.35,98.53 L340.60,98.68 L340.85,98.81 L341.10,98.91 L341.35,99.02 L341.60,99.12 L341.85,99.22 L342.10,99.32 L342.35,99.41 L342.60,99.50 L342.85,99.59 L343.10,99.67 L343.35,99.74 L343.60,99.81 L343.85,99.88 L344.10,99.94 L344.35,99.99 L344.60,100.04 L344.85,100.08 L345.10,100.11 L345.35,100.14 L345.60,100.16 L345.85,100.17 L346.10,100.19 L346.35,100.21 L346.60,100.22 L346.85,100.24 L347.10,100.25 L347.35,100.27 L347.60,100.28 L347.85,100.29 L348.10,100.30 L348.35,100.32 L348.60,100.33 L348.85,100.34 L349.10,100.35 L349.35,100.35 L349.60,100.36 L349.85,100.37 L350.10,100.38 L350.35,100.38 L350.60,100.39 L350.85,100.39 L351.10,100.39 L351.35,100.40 L351.60,100.40 L351.85,100.40 L352.10,100.40 L352.35,100.40 L352.60,100.40 L352.85,100.40 L353.10,100.40 L353.35,100.40 L353.60,100.40 L353.85,100.40 L354.10,100.40 L354.35,100.40 L354.60,100.40 L354.85,100.40 L355.10,100.40 L355.35,100.40 L355.60,100.40 L355.85,100.40 L356.10,100.40 L356.35,100.40 L356.60,100.40 L356.85,100.40 L357.10,100.40 L357.35,100.40 L357.60,100.40 L357.85,100.40 L358.10,100.40 L358.35,100.40 L358.60,100.40 L358.85,100.40 L359.10,100.40 L359.35,100.40 L359.60,100.40 L359.85,100.40 L360.10,100.40 L360.35,100.40 L360.60,100.40 L360.85,100.40 L361.10,100.40 L361.35,100.40 L361.60,100.40 L361.85,100.40 L362.10,100.40 L362.35,100.40 L362.60,100.40 L362.85,100.40 L363.10,100.40 L363.35,100.40 L363.60,100.40 L363.85,100.40 L364.10,100.40 L364.35,100.40 L364.60,100.40 L364.85,100.40 L365.10,100.40 L365.35,100.40 L365.60,100.40 L365.85,100.40 L366.10,100.40 L366.35,100.40 L366.60,100.40 L366.85,100.40 L367.10,100.40 L367.35,100.40 L367.60,100.40 L367.85,100.40 L368.10,100.40 L368.35,100.40 L368.60,100.40 L368.85,100.40 L369.10,100.40 L369.35,100.40 L369.60,100.40 L369.85,100.40 L370.10,100.40 L370.35,100.40 L370.60,100.40 L370.85,100.40 L371.10,100.40 L371.35,100.40 L371.60,100.40 L371.85,100.40 L372.10,100.40 L372.35,100.40 L372.60,100.40 L372.85,100.40 L373.10,100.40 L373.35,100.40 L373.60,100.40 L373.85,100.40 L374.10,100.40 L374.35,100.40 L374.60,100.40 L374.85,100.40 L375.10,100.40 L375.35,100.40 L375.60,100.40 L375.85,100.40 L376.10,100.40 L376.35,100.40 L376.60,100.40 L376.85,100.40 L377.10,100.40 L377.35,100.40 L377.60,100.40 L377.85,100.40 L378.10,100.40 L378.35,100.40 L378.60,100.40 L378.85,100.40 L379.10,100.40 L379.35,100.40 L379.60,100.40 L379.85,100.40 L380.10,100.40 L380.35,100.40 L380.60,100.40 L380.85,100.40 L381.10,100.40 L381.35,100.40 L381.60,100.40 L381.85,100.40 L382.10,100.40 L382.35,100.40 L382.60,100.40 L382.85,100.40 L383.10,100.40 L383.35,100.40 L383.60,100.40 L383.85,100.40 L384.10,100.40 L384.35,100.40" stroke="#ee1c1c" stroke-width="1"/>
</g>
<clipPath id="cm"><rect x="57.0" y="7.4" width="331.5" height="245.54999999999998"/></clipPath>
<g clip-path="url(#cm)" fill="none" stroke-width="1.75" stroke-linejoin="round">
<path d="M57.50,234.79 L57.75,234.81 L58.00,234.83 L58.25,234.86 L58.50,234.90 L58.75,234.94 L59.00,234.98 L59.25,235.03 L59.50,235.07 L59.75,235.12 L60.00,235.18 L60.25,235.23 L60.50,235.28 L60.75,235.33 L61.00,235.37 L61.25,235.42 L61.50,235.46 L61.75,235.49 L62.00,235.52 L62.25,235.54 L62.50,235.55 L62.75,235.56 L63.00,235.55 L63.25,235.54 L63.50,235.51 L63.75,235.48 L64.00,235.45 L64.25,235.40 L64.50,235.36 L64.75,235.31 L65.00,235.26 L65.25,235.20 L65.50,235.15 L65.75,235.10 L66.00,235.06 L66.25,235.02 L66.50,234.99 L66.75,234.96 L67.00,234.93 L67.25,234.90 L67.50,234.87 L67.75,234.84 L68.00,234.82 L68.25,234.79 L68.50,234.77 L68.75,234.75 L69.00,234.73 L69.25,234.71 L69.50,234.69 L69.75,234.67 L70.00,234.65 L70.25,234.64 L70.50,234.63 L70.75,234.62 L71.00,234.61 L71.25,234.61 L71.50,234.61 L71.75,234.61 L72.00,234.61 L72.25,234.61 L72.50,234.61 L72.75,234.61 L73.00,234.61 L73.25,234.61 L73.50,234.61 L73.75,234.62 L74.00,234.62 L74.25,234.63 L74.50,234.63 L74.75,234.63 L75.00,234.63 L75.25,234.63 L75.50,234.63 L75.75,234.62 L76.00,234.62 L76.25,234.61 L76.50,234.60 L76.75,234.60 L77.00,234.60 L77.25,234.60 L77.50,234.61 L77.75,234.62 L78.00,234.64 L78.25,234.66 L78.50,234.69 L78.75,234.72 L79.00,234.75 L79.25,234.79 L79.50,234.82 L79.75,234.86 L80.00,234.89 L80.25,234.93 L80.50,234.96 L80.75,234.99 L81.00,235.02 L81.25,235.05 L81.50,235.07 L81.75,235.09 L82.00,235.10 L82.25,235.10 L82.50,235.10 L82.75,235.09 L83.00,235.08 L83.25,235.06 L83.50,235.03 L83.75,235.00 L84.00,234.97 L84.25,234.94 L84.50,234.91 L84.75,234.88 L85.00,234.85 L85.25,234.82 L85.50,234.79 L85.75,234.76 L86.00,234.74 L86.25,234.71 L86.50,234.69 L86.75,234.67 L87.00,234.65 L87.25,234.64 L87.50,234.62 L87.75,234.62 L88.00,234.61 L88.25,234.60 L88.50,234.60 L88.75,234.60 L89.00,234.60 L89.25,234.61 L89.50,234.62 L89.75,234.63 L90.00,234.64 L90.25,234.65 L90.50,234.67 L90.75,234.68 L91.00,234.70 L91.25,234.72 L91.50,234.73 L91.75,234.75 L92.00,234.76 L92.25,234.78 L92.50,234.79 L92.75,234.80 L93.00,234.80 L93.25,234.80 L93.50,234.80 L93.75,234.79 L94.00,234.77 L94.25,234.75 L94.50,234.73 L94.75,234.70 L95.00,234.67 L95.25,234.63 L95.50,234.59 L95.75,234.55 L96.00,234.52 L96.25,234.48 L96.50,234.45 L96.75,234.43 L97.00,234.42 L97.25,234.41 L97.50,234.40 L97.75,234.41 L98.00,234.41 L98.25,234.42 L98.50,234.43 L98.75,234.44 L99.00,234.46 L99.25,234.48 L99.50,234.50 L99.75,234.52 L100.00,234.54 L100.25,234.56 L100.50,234.58 L100.75,234.59 L101.00,234.59 L101.25,234.58 L101.50,234.56 L101.75,234.53 L102.00,234.50 L102.25,234.46 L102.50,234.41 L102.75,234.36 L103.00,234.30 L103.25,234.25 L103.50,234.19 L103.75,234.14 L104.00,234.09 L104.25,234.04 L104.50,234.00 L104.75,233.97 L105.00,233.93 L105.25,233.90 L105.50,233.88 L105.75,233.85 L106.00,233.83 L106.25,233.81 L106.50,233.79 L106.75,233.77 L107.00,233.76 L107.25,233.75 L107.50,233.73 L107.75,233.72 L108.00,233.71 L108.25,233.70 L108.50,233.69 L108.75,233.68 L109.00,233.68 L109.25,233.67 L109.50,233.67 L109.75,233.67 L110.00,233.67 L110.25,233.67 L110.50,233.67 L110.75,233.68 L111.00,233.68 L111.25,233.69 L111.50,233.69 L111.75,233.70 L112.00,233.70 L112.25,233.71 L112.50,233.71 L112.75,233.70 L113.00,233.70 L113.25,233.68 L113.50,233.66 L113.75,233.64 L114.00,233.61 L114.25,233.58 L114.50,233.55 L114.75,233.51 L115.00,233.47 L115.25,233.43 L115.50,233.39 L115.75,233.35 L116.00,233.31 L116.25,233.27 L116.50,233.23 L116.75,233.19 L117.00,233.15 L117.25,233.11 L117.50,233.06 L117.75,233.02 L118.00,232.98 L118.25,232.94 L118.50,232.89 L118.75,232.85 L119.00,232.82 L119.25,232.78 L119.50,232.75 L119.75,232.72 L120.00,232.69 L120.25,232.67 L120.50,232.65 L120.75,232.64 L121.00,232.63 L121.25,232.63 L121.50,232.62 L121.75,232.62 L122.00,232.61 L122.25,232.61 L122.50,232.59 L122.75,232.58 L123.00,232.55 L123.25,232.52 L123.50,232.49 L123.75,232.45 L124.00,232.41 L124.25,232.37 L124.50,232.33 L124.75,232.30 L125.00,232.26 L125.25,232.23 L125.50,232.19 L125.75,232.16 L126.00,232.13 L126.25,232.10 L126.50,232.08 L126.75,232.05 L127.00,232.03 L127.25,232.00 L127.50,231.98 L127.75,231.96 L128.00,231.94 L128.25,231.92 L128.50,231.91 L128.75,231.90 L129.00,231.89 L129.25,231.88 L129.50,231.86 L129.75,231.84 L130.00,231.81 L130.25,231.78 L130.50,231.74 L130.75,231.70 L131.00,231.64 L131.25,231.59 L131.50,231.53 L131.75,231.46 L132.00,231.39 L132.25,231.32 L132.50,231.25 L132.75,231.17 L133.00,231.09 L133.25,231.01 L133.50,230.93 L133.75,230.85 L134.00,230.77 L134.25,230.68 L134.50,230.60 L134.75,230.53 L135.00,230.46 L135.25,230.39 L135.50,230.33 L135.75,230.27 L136.00,230.21 L136.25,230.16 L136.50,230.11 L136.75,230.07 L137.00,230.03 L137.25,229.99 L137.50,229.95 L137.75,229.91 L138.00,229.87 L138.25,229.83 L138.50,229.79 L138.75,229.74 L139.00,229.70 L139.25,229.66 L139.50,229.62 L139.75,229.57 L140.00,229.53 L140.25,229.49 L140.50,229.45 L140.75,229.42 L141.00,229.38 L141.25,229.35 L141.50,229.32 L141.75,229.29 L142.00,229.27 L142.25,229.24 L142.50,229.21 L142.75,229.18 L143.00,229.15 L143.25,229.11 L143.50,229.07 L143.75,229.02 L144.00,228.97 L144.25,228.91 L144.50,228.86 L144.75,228.81 L145.00,228.75 L145.25,228.70 L145.50,228.64 L145.75,228.58 L146.00,228.52 L146.25,228.47 L146.50,228.41 L146.75,228.36 L147.00,228.31 L147.25,228.26 L147.50,228.21 L147.75,228.17 L148.00,228.13 L148.25,228.09 L148.50,228.06 L148.75,228.03 L149.00,228.01 L149.25,227.98 L149.50,227.96 L149.75,227.93 L150.00,227.90 L150.25,227.88 L150.50,227.85 L150.75,227.81 L151.00,227.78 L151.25,227.74 L151.50,227.70 L151.75,227.66 L152.00,227.61 L152.25,227.57 L152.50,227.53 L152.75,227.49 L153.00,227.45 L153.25,227.41 L153.50,227.38 L153.75,227.35 L154.00,227.32 L154.25,227.30 L154.50,227.28 L154.75,227.27 L155.00,227.26 L155.25,227.26 L155.50,227.25 L155.75,227.25 L156.00,227.25 L156.25,227.25 L156.50,227.24 L156.75,227.23 L157.00,227.22 L157.25,227.20 L157.50,227.17 L157.75,227.14 L158.00,227.10 L158.25,227.05 L158.50,227.00 L158.75,226.95 L159.00,226.89 L159.25,226.83 L159.50,226.77 L159.75,226.71 L160.00,226.65 L160.25,226.59 L160.50,226.54 L160.75,226.49 L161.00,226.44 L161.25,226.40 L161.50,226.35 L161.75,226.32 L162.00,226.28 L162.25,226.25 L162.50,226.22 L162.75,226.19 L163.00,226.16 L163.25,226.13 L163.50,226.09 L163.75,226.05 L164.00,226.00 L164.25,225.95 L164.50,225.89 L164.75,225.82 L165.00,225.75 L165.25,225.68 L165.50,225.60 L165.75,225.52 L166.00,225.44 L166.25,225.35 L166.50,225.27 L166.75,225.18 L167.00,225.10 L167.25,225.02 L167.50,224.94 L167.75,224.87 L168.00,224.80 L168.25,224.72 L168.50,224.65 L168.75,224.58 L169.00,224.50 L169.25,224.42 L169.50,224.34 L169.75,224.24 L170.00,224.14 L170.25,224.04 L170.50,223.93 L170.75,223.81 L171.00,223.69 L171.25,223.56 L171.50,223.42 L171.75,223.28 L172.00,223.14 L172.25,222.99 L172.50,222.84 L172.75,222.68 L173.00,222.52 L173.25,222.37 L173.50,222.21 L173.75,222.05 L174.00,221.89 L174.25,221.72 L174.50,221.56 L174.75,221.39 L175.00,221.23 L175.25,221.06 L175.50,220.88 L175.75,220.69 L176.00,220.50 L176.25,220.30 L176.50,220.10 L176.75,219.90 L177.00,219.70 L177.25,219.50 L177.50,219.29 L177.75,219.10 L178.00,218.90 L178.25,218.71 L178.50,218.51 L178.75,218.32 L179.00,218.13 L179.25,217.94 L179.50,217.75 L179.75,217.56 L180.00,217.37 L180.25,217.17 L180.50,216.98 L180.75,216.77 L181.00,216.56 L181.25,216.35 L181.50,216.13 L181.75,215.91 L182.00,215.69 L182.25,215.46 L182.50,215.24 L182.75,215.00 L183.00,214.77 L183.25,214.53 L183.50,214.28 L183.75,214.04 L184.00,213.78 L184.25,213.53 L184.50,213.27 L184.75,213.01 L185.00,212.74 L185.25,212.47 L185.50,212.19 L185.75,211.90 L186.00,211.60 L186.25,211.29 L186.50,210.98 L186.75,210.67 L187.00,210.35 L187.25,210.03 L187.50,209.71 L187.75,209.40 L188.00,209.08 L188.25,208.78 L188.50,208.47 L188.75,208.17 L189.00,207.88 L189.25,207.58 L189.50,207.29 L189.75,207.00 L190.00,206.71 L190.25,206.42 L190.50,206.13 L190.75,205.84 L191.00,205.54 L191.25,205.25 L191.50,204.95 L191.75,204.65 L192.00,204.34 L192.25,204.04 L192.50,203.75 L192.75,203.45 L193.00,203.16 L193.25,202.87 L193.50,202.58 L193.75,202.31 L194.00,202.03 L194.25,201.77 L194.50,201.50 L194.75,201.24 L195.00,200.98 L195.25,200.74 L195.50,200.50 L195.75,200.27 L196.00,200.03 L196.25,199.78 L196.50,199.52 L196.75,199.25 L197.00,198.97 L197.25,198.69 L197.50,198.40 L197.75,198.10 L198.00,197.80 L198.25,197.50 L198.50,197.18 L198.75,196.85 L199.00,196.52 L199.25,196.16 L199.50,195.77 L199.75,195.36 L200.00,194.94 L200.25,194.52 L200.50,194.11 L200.75,193.71 L201.00,193.33 L201.25,192.98 L201.50,192.66 L201.75,192.36 L202.00,192.07 L202.25,191.77 L202.50,191.47 L202.75,191.15 L203.00,190.80 L203.25,190.42 L203.50,190.00 L203.75,189.51 L204.00,188.94 L204.25,188.30 L204.50,187.61 L204.75,186.87 L205.00,186.11 L205.25,185.33 L205.50,184.54 L205.75,183.76 L206.00,183.00 L206.25,182.24 L206.50,181.47 L206.75,180.68 L207.00,179.88 L207.25,179.07 L207.50,178.25 L207.75,177.43 L208.00,176.62 L208.25,175.80 L208.50,175.00 L208.75,174.20 L209.00,173.41 L209.25,172.62 L209.50,171.84 L209.75,171.05 L210.00,170.25 L210.25,169.45 L210.50,168.65 L210.75,167.83 L211.00,167.00 L211.25,166.18 L211.50,165.38 L211.75,164.59 L212.00,163.78 L212.25,162.94 L212.50,162.04 L212.75,161.06 L213.00,160.00 L213.25,158.76 L213.50,157.32 L213.75,155.77 L214.00,154.20 L214.25,152.71 L214.50,151.26 L214.75,149.81 L215.00,148.36 L215.25,146.89 L215.50,145.40 L215.75,143.94 L216.00,142.46 L216.25,140.95 L216.50,139.36 L216.75,137.65 L217.00,135.90 L217.25,134.04 L217.50,131.94 L217.75,129.45 L218.00,126.02 L218.25,122.15 L218.50,118.67 L218.75,115.41 L219.00,112.32 L219.25,109.46 L219.50,107.04 L219.75,104.83 L220.00,102.39 L220.25,99.29 L220.50,94.86 L220.75,89.70 L221.00,84.75 L221.25,79.70 L221.50,74.96 L221.75,71.02 L222.00,67.57 L222.25,64.55 L222.50,62.00 L222.75,59.82 L223.00,57.75 L223.25,55.50 L223.50,52.86 L223.75,49.96 L224.00,47.00 L224.25,43.89 L224.50,41.00 L224.75,38.33 L225.00,37.95 L225.25,40.48 L225.50,43.22 L225.75,46.37 L226.00,49.62 L226.25,53.01 L226.50,56.28 L226.75,59.36 L227.00,62.44 L227.25,65.66 L227.50,69.12 L227.75,72.61 L228.00,76.10 L228.25,79.69 L228.50,83.13 L228.75,86.16 L229.00,88.65 L229.25,90.76 L229.50,92.66 L229.75,94.50 L230.00,96.41 L230.25,98.55 L230.50,101.09 L230.75,104.24 L231.00,107.57 L231.25,110.55 L231.50,113.14 L231.75,115.56 L232.00,117.97 L232.25,120.54 L232.50,123.41 L232.75,126.36 L233.00,129.06 L233.25,131.28 L233.50,133.24 L233.75,135.03 L234.00,136.71 L234.25,138.32 L234.50,139.87 L234.75,141.34 L235.00,142.75 L235.25,144.12 L235.50,145.47 L235.75,146.79 L236.00,148.09 L236.25,149.36 L236.50,150.61 L236.75,151.82 L237.00,153.00 L237.25,154.16 L237.50,155.29 L237.75,156.40 L238.00,157.49 L238.25,158.55 L238.50,159.59 L238.75,160.60 L239.00,161.59 L239.25,162.55 L239.50,163.50 L239.75,164.43 L240.00,165.35 L240.25,166.26 L240.50,167.17 L240.75,168.08 L241.00,169.00 L241.25,169.92 L241.50,170.84 L241.75,171.76 L242.00,172.67 L242.25,173.59 L242.50,174.49 L242.75,175.39 L243.00,176.27 L243.25,177.14 L243.50,178.00 L243.75,178.87 L244.00,179.76 L244.25,180.66 L244.50,181.57 L244.75,182.46 L245.00,183.33 L245.25,184.17 L245.50,184.95 L245.75,185.68 L246.00,186.33 L246.25,186.90 L246.50,187.38 L246.75,187.79 L247.00,188.15 L247.25,188.49 L247.50,188.82 L247.75,189.16 L248.00,189.53 L248.25,189.95 L248.50,190.43 L248.75,190.96 L249.00,191.54 L249.25,192.15 L249.50,192.77 L249.75,193.40 L250.00,194.00 L250.25,194.58 L250.50,195.12 L250.75,195.63 L251.00,196.13 L251.25,196.62 L251.50,197.10 L251.75,197.57 L252.00,198.02 L252.25,198.45 L252.50,198.86 L252.75,199.24 L253.00,199.60 L253.25,199.93 L253.50,200.24 L253.75,200.54 L254.00,200.81 L254.25,201.08 L254.50,201.33 L254.75,201.58 L255.00,201.83 L255.25,202.07 L255.50,202.32 L255.75,202.57 L256.00,202.83 L256.25,203.11 L256.50,203.39 L256.75,203.70 L257.00,204.01 L257.25,204.33 L257.50,204.66 L257.75,204.99 L258.00,205.32 L258.25,205.65 L258.50,205.98 L258.75,206.31 L259.00,206.63 L259.25,206.94 L259.50,207.25 L259.75,207.54 L260.00,207.81 L260.25,208.08 L260.50,208.33 L260.75,208.56 L261.00,208.80 L261.25,209.02 L261.50,209.24 L261.75,209.47 L262.00,209.69 L262.25,209.93 L262.50,210.16 L262.75,210.40 L263.00,210.65 L263.25,210.90 L263.50,211.16 L263.75,211.41 L264.00,211.67 L264.25,211.94 L264.50,212.20 L264.75,212.46 L265.00,212.73 L265.25,213.00 L265.50,213.28 L265.75,213.55 L266.00,213.82 L266.25,214.09 L266.50,214.35 L266.75,214.62 L267.00,214.88 L267.25,215.15 L267.50,215.41 L267.75,215.67 L268.00,215.92 L268.25,216.17 L268.50,216.42 L268.75,216.67 L269.00,216.92 L269.25,217.18 L269.50,217.43 L269.75,217.69 L270.00,217.95 L270.25,218.21 L270.50,218.47 L270.75,218.74 L271.00,219.01 L271.25,219.27 L271.50,219.54 L271.75,219.80 L272.00,220.04 L272.25,220.29 L272.50,220.52 L272.75,220.73 L273.00,220.94 L273.25,221.13 L273.50,221.30 L273.75,221.46 L274.00,221.60 L274.25,221.72 L274.50,221.83 L274.75,221.92 L275.00,222.01 L275.25,222.09 L275.50,222.17 L275.75,222.24 L276.00,222.32 L276.25,222.40 L276.50,222.49 L276.75,222.58 L277.00,222.69 L277.25,222.82 L277.50,222.95 L277.75,223.09 L278.00,223.24 L278.25,223.39 L278.50,223.55 L278.75,223.71 L279.00,223.86 L279.25,224.02 L279.50,224.18 L279.75,224.34 L280.00,224.49 L280.25,224.63 L280.50,224.77 L280.75,224.90 L281.00,225.01 L281.25,225.12 L281.50,225.21 L281.75,225.31 L282.00,225.39 L282.25,225.48 L282.50,225.56 L282.75,225.64 L283.00,225.72 L283.25,225.79 L283.50,225.86 L283.75,225.93 L284.00,225.99 L284.25,226.06 L284.50,226.13 L284.75,226.20 L285.00,226.27 L285.25,226.35 L285.50,226.44 L285.75,226.52 L286.00,226.61 L286.25,226.70 L286.50,226.79 L286.75,226.89 L287.00,226.99 L287.25,227.09 L287.50,227.19 L287.75,227.29 L288.00,227.39 L288.25,227.49 L288.50,227.59 L288.75,227.67 L289.00,227.76 L289.25,227.83 L289.50,227.90 L289.75,227.96 L290.00,228.01 L290.25,228.06 L290.50,228.10 L290.75,228.14 L291.00,228.18 L291.25,228.21 L291.50,228.24 L291.75,228.27 L292.00,228.29 L292.25,228.32 L292.50,228.34 L292.75,228.37 L293.00,228.39 L293.25,228.41 L293.50,228.44 L293.75,228.46 L294.00,228.49 L294.25,228.52 L294.50,228.55 L294.75,228.59 L295.00,228.62 L295.25,228.66 L295.50,228.70 L295.75,228.74 L296.00,228.77 L296.25,228.81 L296.50,228.84 L296.75,228.88 L297.00,228.91 L297.25,228.94 L297.50,228.98 L297.75,229.02 L298.00,229.06 L298.25,229.10 L298.50,229.15 L298.75,229.21 L299.00,229.27 L299.25,229.33 L299.50,229.40 L299.75,229.47 L300.00,229.54 L300.25,229.61 L300.50,229.68 L300.75,229.76 L301.00,229.83 L301.25,229.90 L301.50,229.97 L301.75,230.04 L302.00,230.11 L302.25,230.17 L302.50,230.23 L302.75,230.29 L303.00,230.34 L303.25,230.39 L303.50,230.43 L303.75,230.47 L304.00,230.50 L304.25,230.52 L304.50,230.55 L304.75,230.57 L305.00,230.59 L305.25,230.61 L305.50,230.63 L305.75,230.65 L306.00,230.67 L306.25,230.69 L306.50,230.72 L306.75,230.74 L307.00,230.76 L307.25,230.78 L307.50,230.81 L307.75,230.83 L308.00,230.85 L308.25,230.87 L308.50,230.90 L308.75,230.93 L309.00,230.96 L309.25,230.98 L309.50,231.01 L309.75,231.04 L310.00,231.08 L310.25,231.11 L310.50,231.16 L310.75,231.20 L311.00,231.25 L311.25,231.30 L311.50,231.35 L311.75,231.41 L312.00,231.47 L312.25,231.53 L312.50,231.59 L312.75,231.65 L313.00,231.71 L313.25,231.77 L313.50,231.83 L313.75,231.89 L314.00,231.94 L314.25,231.99 L314.50,232.03 L314.75,232.06 L315.00,232.09 L315.25,232.12 L315.50,232.14 L315.75,232.16 L316.00,232.18 L316.25,232.19 L316.50,232.20 L316.75,232.21 L317.00,232.22 L317.25,232.22 L317.50,232.23 L317.75,232.24 L318.00,232.25 L318.25,232.26 L318.50,232.27 L318.75,232.29 L319.00,232.30 L319.25,232.31 L319.50,232.32 L319.75,232.33 L320.00,232.34 L320.25,232.35 L320.50,232.36 L320.75,232.36 L321.00,232.37 L321.25,232.37 L321.50,232.38 L321.75,232.38 L322.00,232.39 L322.25,232.40 L322.50,232.41 L322.75,232.43 L323.00,232.46 L323.25,232.49 L323.50,232.53 L323.75,232.58 L324.00,232.63 L324.25,232.69 L324.50,232.76 L324.75,232.82 L325.00,232.89 L325.25,232.96 L325.50,233.03 L325.75,233.10 L326.00,233.16 L326.25,233.22 L326.50,233.27 L326.75,233.32 L327.00,233.36 L327.25,233.39 L327.50,233.42 L327.75,233.44 L328.00,233.46 L328.25,233.47 L328.50,233.48 L328.75,233.49 L329.00,233.50 L329.25,233.51 L329.50,233.51 L329.75,233.52 L330.00,233.54 L330.25,233.55 L330.50,233.57 L330.75,233.59 L331.00,233.62 L331.25,233.64 L331.50,233.67 L331.75,233.69 L332.00,233.72 L332.25,233.75 L332.50,233.78 L332.75,233.81 L333.00,233.83 L333.25,233.85 L333.50,233.87 L333.75,233.89 L334.00,233.91 L334.25,233.92 L334.50,233.94 L334.75,233.94 L335.00,233.95 L335.25,233.96 L335.50,233.96 L335.75,233.97 L336.00,233.97 L336.25,233.98 L336.50,233.98 L336.75,233.99 L337.00,234.00 L337.25,234.00 L337.50,234.01 L337.75,234.02 L338.00,234.03 L338.25,234.03 L338.50,234.04 L338.75,234.05 L339.00,234.05 L339.25,234.06 L339.50,234.08 L339.75,234.09 L340.00,234.12 L340.25,234.14 L340.50,234.17 L340.75,234.20 L341.00,234.24 L341.25,234.28 L341.50,234.32 L341.75,234.36 L342.00,234.41 L342.25,234.45 L342.50,234.50 L342.75,234.54 L343.00,234.59 L343.25,234.63 L343.50,234.66 L343.75,234.69 L344.00,234.72 L344.25,234.74 L344.50,234.75 L344.75,234.75 L345.00,234.75 L345.25,234.74 L345.50,234.73 L345.75,234.71 L346.00,234.69 L346.25,234.67 L346.50,234.65 L346.75,234.62 L347.00,234.60 L347.25,234.58 L347.50,234.56 L347.75,234.55 L348.00,234.54 L348.25,234.54 L348.50,234.55 L348.75,234.55 L349.00,234.56 L349.25,234.58 L349.50,234.59 L349.75,234.61 L350.00,234.62 L350.25,234.64 L350.50,234.65 L350.75,234.65 L351.00,234.65 L351.25,234.65 L351.50,234.64 L351.75,234.63 L352.00,234.62 L352.25,234.60 L352.50,234.59 L352.75,234.57 L353.00,234.56 L353.25,234.55 L353.50,234.54 L353.75,234.53 L354.00,234.53 L354.25,234.53 L354.50,234.54 L354.75,234.54 L355.00,234.55 L355.25,234.57 L355.50,234.58 L355.75,234.61 L356.00,234.64 L356.25,234.67 L356.50,234.70 L356.75,234.73 L357.00,234.75 L357.25,234.77 L357.50,234.79 L357.75,234.81 L358.00,234.81 L358.25,234.81 L358.50,234.81 L358.75,234.81 L359.00,234.80 L359.25,234.79 L359.50,234.78 L359.75,234.77 L360.00,234.76 L360.25,234.76 L360.50,234.75 L360.75,234.74 L361.00,234.74 L361.25,234.74 L361.50,234.74 L361.75,234.74 L362.00,234.74 L362.25,234.75 L362.50,234.76 L362.75,234.78 L363.00,234.79 L363.25,234.81 L363.50,234.82 L363.75,234.84 L364.00,234.85 L364.25,234.86 L364.50,234.87 L364.75,234.87 L365.00,234.86 L365.25,234.85 L365.50,234.83 L365.75,234.81 L366.00,234.78 L366.25,234.75 L366.50,234.72 L366.75,234.69 L367.00,234.67 L367.25,234.65 L367.50,234.63 L367.75,234.62 L368.00,234.60 L368.25,234.60 L368.50,234.59 L368.75,234.60 L369.00,234.61 L369.25,234.62 L369.50,234.63 L369.75,234.65 L370.00,234.66 L370.25,234.68 L370.50,234.70 L370.75,234.73 L371.00,234.75 L371.25,234.78 L371.50,234.81 L371.75,234.84 L372.00,234.87 L372.25,234.90 L372.50,234.92 L372.75,234.94 L373.00,234.96 L373.25,234.98 L373.50,235.00 L373.75,235.02 L374.00,235.04 L374.25,235.07 L374.50,235.09 L374.75,235.13 L375.00,235.16 L375.25,235.20 L375.50,235.25 L375.75,235.29 L376.00,235.33 L376.25,235.37 L376.50,235.41 L376.75,235.45 L377.00,235.49 L377.25,235.53 L377.50,235.56 L377.75,235.59 L378.00,235.61 L378.25,235.63 L378.50,235.64 L378.75,235.65 L379.00,235.66 L379.25,235.66 L379.50,235.65 L379.75,235.64 L380.00,235.63 L380.25,235.61 L380.50,235.58 L380.75,235.56 L381.00,235.53 L381.25,235.51 L381.50,235.49 L381.75,235.47 L382.00,235.46 L382.25,235.45 L382.50,235.44 L382.75,235.43 L383.00,235.43 L383.25,235.43 L383.50,235.44 L383.75,235.45 L384.00,235.46 L384.25,235.48 L384.50,235.50 L384.75,235.52 L385.00,235.55 L385.25,235.57 L385.50,235.60 L385.75,235.62 L386.00,235.65 L386.25,235.66 L386.50,235.68 L386.75,235.69 L387.00,235.69 L387.25,235.68 L387.50,235.67 L387.75,235.66 L388.00,235.64 L388.25,235.62 L388.50,235.59" stroke="#1ee61e"/>
<path d="M57.50,235.03 L57.75,235.11 L58.00,235.19 L58.25,235.26 L58.50,235.33 L58.75,235.39 L59.00,235.45 L59.25,235.50 L59.50,235.54 L59.75,235.58 L60.00,235.60 L60.25,235.63 L60.50,235.65 L60.75,235.66 L61.00,235.67 L61.25,235.66 L61.50,235.66 L61.75,235.64 L62.00,235.62 L62.25,235.60 L62.50,235.57 L62.75,235.55 L63.00,235.53 L63.25,235.51 L63.50,235.50 L63.75,235.49 L64.00,235.49 L64.25,235.50 L64.50,235.51 L64.75,235.53 L65.00,235.55 L65.25,235.57 L65.50,235.60 L65.75,235.63 L66.00,235.67 L66.25,235.71 L66.50,235.76 L66.75,235.81 L67.00,235.86 L67.25,235.91 L67.50,235.96 L67.75,236.01 L68.00,236.06 L68.25,236.10 L68.50,236.13 L68.75,236.16 L69.00,236.18 L69.25,236.19 L69.50,236.19 L69.75,236.20 L70.00,236.20 L70.25,236.20 L70.50,236.20 L70.75,236.20 L71.00,236.21 L71.25,236.21 L71.50,236.22 L71.75,236.24 L72.00,236.25 L72.25,236.27 L72.50,236.28 L72.75,236.30 L73.00,236.32 L73.25,236.34 L73.50,236.37 L73.75,236.39 L74.00,236.42 L74.25,236.45 L74.50,236.47 L74.75,236.48 L75.00,236.49 L75.25,236.49 L75.50,236.47 L75.75,236.44 L76.00,236.41 L76.25,236.36 L76.50,236.31 L76.75,236.24 L77.00,236.18 L77.25,236.13 L77.50,236.08 L77.75,236.04 L78.00,236.01 L78.25,235.98 L78.50,235.95 L78.75,235.94 L79.00,235.93 L79.25,235.92 L79.50,235.92 L79.75,235.92 L80.00,235.91 L80.25,235.91 L80.50,235.91 L80.75,235.90 L81.00,235.90 L81.25,235.89 L81.50,235.88 L81.75,235.86 L82.00,235.84 L82.25,235.81 L82.50,235.77 L82.75,235.72 L83.00,235.67 L83.25,235.61 L83.50,235.55 L83.75,235.49 L84.00,235.44 L84.25,235.38 L84.50,235.33 L84.75,235.28 L85.00,235.24 L85.25,235.19 L85.50,235.15 L85.75,235.12 L86.00,235.08 L86.25,235.05 L86.50,235.01 L86.75,234.98 L87.00,234.94 L87.25,234.91 L87.50,234.87 L87.75,234.84 L88.00,234.81 L88.25,234.78 L88.50,234.75 L88.75,234.73 L89.00,234.71 L89.25,234.69 L89.50,234.68 L89.75,234.67 L90.00,234.66 L90.25,234.65 L90.50,234.65 L90.75,234.65 L91.00,234.66 L91.25,234.67 L91.50,234.68 L91.75,234.69 L92.00,234.71 L92.25,234.74 L92.50,234.76 L92.75,234.79 L93.00,234.82 L93.25,234.85 L93.50,234.88 L93.75,234.91 L94.00,234.94 L94.25,234.98 L94.50,235.01 L94.75,235.04 L95.00,235.08 L95.25,235.10 L95.50,235.12 L95.75,235.13 L96.00,235.14 L96.25,235.14 L96.50,235.13 L96.75,235.10 L97.00,235.06 L97.25,235.01 L97.50,234.95 L97.75,234.88 L98.00,234.80 L98.25,234.71 L98.50,234.61 L98.75,234.50 L99.00,234.39 L99.25,234.27 L99.50,234.14 L99.75,234.02 L100.00,233.91 L100.25,233.80 L100.50,233.69 L100.75,233.60 L101.00,233.51 L101.25,233.43 L101.50,233.36 L101.75,233.31 L102.00,233.27 L102.25,233.24 L102.50,233.23 L102.75,233.23 L103.00,233.25 L103.25,233.27 L103.50,233.30 L103.75,233.33 L104.00,233.37 L104.25,233.41 L104.50,233.45 L104.75,233.49 L105.00,233.53 L105.25,233.57 L105.50,233.60 L105.75,233.62 L106.00,233.62 L106.25,233.62 L106.50,233.60 L106.75,233.56 L107.00,233.52 L107.25,233.47 L107.50,233.41 L107.75,233.35 L108.00,233.28 L108.25,233.22 L108.50,233.16 L108.75,233.11 L109.00,233.06 L109.25,233.03 L109.50,233.00 L109.75,232.99 L110.00,232.99 L110.25,233.01 L110.50,233.03 L110.75,233.06 L111.00,233.10 L111.25,233.13 L111.50,233.18 L111.75,233.22 L112.00,233.27 L112.25,233.32 L112.50,233.37 L112.75,233.41 L113.00,233.44 L113.25,233.47 L113.50,233.48 L113.75,233.48 L114.00,233.47 L114.25,233.45 L114.50,233.41 L114.75,233.38 L115.00,233.35 L115.25,233.32 L115.50,233.29 L115.75,233.26 L116.00,233.23 L116.25,233.21 L116.50,233.19 L116.75,233.17 L117.00,233.16 L117.25,233.16 L117.50,233.16 L117.75,233.17 L118.00,233.17 L118.25,233.18 L118.50,233.19 L118.75,233.20 L119.00,233.22 L119.25,233.23 L119.50,233.24 L119.75,233.25 L120.00,233.27 L120.25,233.28 L120.50,233.28 L120.75,233.28 L121.00,233.27 L121.25,233.25 L121.50,233.22 L121.75,233.19 L122.00,233.15 L122.25,233.10 L122.50,233.04 L122.75,232.98 L123.00,232.92 L123.25,232.85 L123.50,232.77 L123.75,232.70 L124.00,232.62 L124.25,232.54 L124.50,232.47 L124.75,232.40 L125.00,232.34 L125.25,232.28 L125.50,232.23 L125.75,232.18 L126.00,232.14 L126.25,232.11 L126.50,232.08 L126.75,232.06 L127.00,232.03 L127.25,232.01 L127.50,231.99 L127.75,231.97 L128.00,231.95 L128.25,231.94 L128.50,231.92 L128.75,231.91 L129.00,231.90 L129.25,231.88 L129.50,231.87 L129.75,231.86 L130.00,231.84 L130.25,231.83 L130.50,231.81 L130.75,231.79 L131.00,231.76 L131.25,231.73 L131.50,231.70 L131.75,231.66 L132.00,231.62 L132.25,231.58 L132.50,231.54 L132.75,231.49 L133.00,231.43 L133.25,231.37 L133.50,231.31 L133.75,231.25 L134.00,231.20 L134.25,231.14 L134.50,231.08 L134.75,231.03 L135.00,230.96 L135.25,230.89 L135.50,230.82 L135.75,230.75 L136.00,230.68 L136.25,230.61 L136.50,230.54 L136.75,230.47 L137.00,230.40 L137.25,230.33 L137.50,230.27 L137.75,230.20 L138.00,230.13 L138.25,230.06 L138.50,229.99 L138.75,229.92 L139.00,229.84 L139.25,229.77 L139.50,229.70 L139.75,229.63 L140.00,229.57 L140.25,229.51 L140.50,229.47 L140.75,229.43 L141.00,229.40 L141.25,229.37 L141.50,229.34 L141.75,229.31 L142.00,229.29 L142.25,229.27 L142.50,229.24 L142.75,229.21 L143.00,229.17 L143.25,229.13 L143.50,229.08 L143.75,229.02 L144.00,228.96 L144.25,228.90 L144.50,228.84 L144.75,228.78 L145.00,228.72 L145.25,228.66 L145.50,228.60 L145.75,228.55 L146.00,228.49 L146.25,228.44 L146.50,228.40 L146.75,228.36 L147.00,228.32 L147.25,228.29 L147.50,228.27 L147.75,228.26 L148.00,228.25 L148.25,228.26 L148.50,228.28 L148.75,228.29 L149.00,228.31 L149.25,228.32 L149.50,228.33 L149.75,228.34 L150.00,228.35 L150.25,228.35 L150.50,228.35 L150.75,228.34 L151.00,228.33 L151.25,228.31 L151.50,228.28 L151.75,228.24 L152.00,228.20 L152.25,228.15 L152.50,228.09 L152.75,228.03 L153.00,227.96 L153.25,227.88 L153.50,227.81 L153.75,227.73 L154.00,227.65 L154.25,227.58 L154.50,227.52 L154.75,227.46 L155.00,227.42 L155.25,227.37 L155.50,227.34 L155.75,227.31 L156.00,227.28 L156.25,227.27 L156.50,227.26 L156.75,227.25 L157.00,227.24 L157.25,227.24 L157.50,227.23 L157.75,227.23 L158.00,227.23 L158.25,227.22 L158.50,227.21 L158.75,227.19 L159.00,227.16 L159.25,227.12 L159.50,227.08 L159.75,227.02 L160.00,226.96 L160.25,226.88 L160.50,226.80 L160.75,226.70 L161.00,226.60 L161.25,226.50 L161.50,226.39 L161.75,226.28 L162.00,226.17 L162.25,226.07 L162.50,225.96 L162.75,225.86 L163.00,225.76 L163.25,225.67 L163.50,225.58 L163.75,225.50 L164.00,225.43 L164.25,225.37 L164.50,225.32 L164.75,225.27 L165.00,225.23 L165.25,225.19 L165.50,225.15 L165.75,225.11 L166.00,225.07 L166.25,225.02 L166.50,224.97 L166.75,224.91 L167.00,224.85 L167.25,224.77 L167.50,224.68 L167.75,224.59 L168.00,224.49 L168.25,224.38 L168.50,224.25 L168.75,224.12 L169.00,223.99 L169.25,223.85 L169.50,223.70 L169.75,223.56 L170.00,223.41 L170.25,223.26 L170.50,223.11 L170.75,222.94 L171.00,222.78 L171.25,222.62 L171.50,222.45 L171.75,222.29 L172.00,222.12 L172.25,221.96 L172.50,221.81 L172.75,221.66 L173.00,221.51 L173.25,221.36 L173.50,221.21 L173.75,221.05 L174.00,220.89 L174.25,220.73 L174.50,220.57 L174.75,220.41 L175.00,220.24 L175.25,220.07 L175.50,219.88 L175.75,219.68 L176.00,219.48 L176.25,219.26 L176.50,219.03 L176.75,218.79 L177.00,218.53 L177.25,218.27 L177.50,218.00 L177.75,217.72 L178.00,217.43 L178.25,217.13 L178.50,216.82 L178.75,216.50 L179.00,216.18 L179.25,215.86 L179.50,215.54 L179.75,215.23 L180.00,214.91 L180.25,214.60 L180.50,214.29 L180.75,213.98 L181.00,213.68 L181.25,213.37 L181.50,213.07 L181.75,212.77 L182.00,212.47 L182.25,212.17 L182.50,211.88 L182.75,211.59 L183.00,211.31 L183.25,211.03 L183.50,210.77 L183.75,210.50 L184.00,210.24 L184.25,209.99 L184.50,209.74 L184.75,209.49 L185.00,209.25 L185.25,209.01 L185.50,208.77 L185.75,208.53 L186.00,208.29 L186.25,208.04 L186.50,207.80 L186.75,207.54 L187.00,207.28 L187.25,207.02 L187.50,206.74 L187.75,206.46 L188.00,206.17 L188.25,205.87 L188.50,205.57 L188.75,205.28 L189.00,204.98 L189.25,204.69 L189.50,204.41 L189.75,204.12 L190.00,203.85 L190.25,203.57 L190.50,203.30 L190.75,203.02 L191.00,202.74 L191.25,202.48 L191.50,202.22 L191.75,201.98 L192.00,201.75 L192.25,201.53 L192.50,201.34 L192.75,201.17 L193.00,201.02 L193.25,200.89 L193.50,200.78 L193.75,200.67 L194.00,200.57 L194.25,200.48 L194.50,200.37 L194.75,200.27 L195.00,200.15 L195.25,200.01 L195.50,199.86 L195.75,199.70 L196.00,199.51 L196.25,199.31 L196.50,199.09 L196.75,198.86 L197.00,198.62 L197.25,198.37 L197.50,198.11 L197.75,197.83 L198.00,197.55 L198.25,197.26 L198.50,196.96 L198.75,196.66 L199.00,196.35 L199.25,196.01 L199.50,195.64 L199.75,195.24 L200.00,194.81 L200.25,194.36 L200.50,193.91 L200.75,193.45 L201.00,192.99 L201.25,192.53 L201.50,192.07 L201.75,191.60 L202.00,191.10 L202.25,190.58 L202.50,190.02 L202.75,189.41 L203.00,188.77 L203.25,188.11 L203.50,187.42 L203.75,186.71 L204.00,185.99 L204.25,185.25 L204.50,184.50 L204.75,183.75 L205.00,183.00 L205.25,182.24 L205.50,181.47 L205.75,180.68 L206.00,179.88 L206.25,179.07 L206.50,178.25 L206.75,177.43 L207.00,176.62 L207.25,175.80 L207.50,175.00 L207.75,174.20 L208.00,173.41 L208.25,172.62 L208.50,171.84 L208.75,171.05 L209.00,170.25 L209.25,169.45 L209.50,168.65 L209.75,167.83 L210.00,167.00 L210.25,166.17 L210.50,165.34 L210.75,164.51 L211.00,163.67 L211.25,162.81 L211.50,161.91 L211.75,160.98 L212.00,160.00 L212.25,158.94 L212.50,157.81 L212.75,156.62 L213.00,155.40 L213.25,154.19 L213.50,153.00 L213.75,151.84 L214.00,150.70 L214.25,149.56 L214.50,148.40 L214.75,147.22 L215.00,146.00 L215.25,144.77 L215.50,143.54 L215.75,142.28 L216.00,140.96 L216.25,139.55 L216.50,138.00 L216.75,136.33 L217.00,134.49 L217.25,132.41 L217.50,130.00 L217.75,126.77 L218.00,122.92 L218.25,119.33 L218.50,116.06 L218.75,112.92 L219.00,110.00 L219.25,107.49 L219.50,105.27 L219.75,102.92 L220.00,100.00 L220.25,95.92 L220.50,90.89 L220.75,85.65 L221.00,79.97 L221.25,74.34 L221.50,69.26 L221.75,64.75 L222.00,61.41 L222.25,58.67 L222.50,56.09 L222.75,53.40 L223.00,50.91 L223.25,48.26 L223.50,45.00 L223.75,39.74 L224.00,35.82 L224.25,33.50 L224.50,32.13 L224.75,31.20 L225.00,31.09 L225.25,31.91 L225.50,33.18 L225.75,35.36 L226.00,38.32 L226.25,42.52 L226.50,46.48 L226.75,49.98 L227.00,53.50 L227.25,57.34 L227.50,61.44 L227.75,65.97 L228.00,71.36 L228.25,75.92 L228.50,80.03 L228.75,83.68 L229.00,86.70 L229.25,89.09 L229.50,91.09 L229.75,92.83 L230.00,94.49 L230.25,96.22 L230.50,98.17 L230.75,100.51 L231.00,103.54 L231.25,106.89 L231.50,110.00 L231.75,112.64 L232.00,115.08 L232.25,117.48 L232.50,120.00 L232.75,122.82 L233.00,125.78 L233.25,128.56 L233.50,130.87 L233.75,132.88 L234.00,134.72 L234.25,136.41 L234.50,138.00 L234.75,139.50 L235.00,140.90 L235.25,142.23 L235.50,143.51 L235.75,144.76 L236.00,146.00 L236.25,147.24 L236.50,148.45 L236.75,149.64 L237.00,150.79 L237.25,151.92 L237.50,153.00 L237.75,154.05 L238.00,155.07 L238.25,156.06 L238.50,157.03 L238.75,157.98 L239.00,158.91 L239.25,159.82 L239.50,160.71 L239.75,161.58 L240.00,162.42 L240.25,163.25 L240.50,164.06 L240.75,164.87 L241.00,165.68 L241.25,166.49 L241.50,167.31 L241.75,168.15 L242.00,169.00 L242.25,169.87 L242.50,170.76 L242.75,171.65 L243.00,172.55 L243.25,173.46 L243.50,174.37 L243.75,175.28 L244.00,176.19 L244.25,177.10 L244.50,178.00 L244.75,178.91 L245.00,179.83 L245.25,180.76 L245.50,181.69 L245.75,182.62 L246.00,183.53 L246.25,184.44 L246.50,185.32 L246.75,186.17 L247.00,187.00 L247.25,187.77 L247.50,188.50 L247.75,189.23 L248.00,189.99 L248.25,190.83 L248.50,191.74 L248.75,192.67 L249.00,193.56 L249.25,194.35 L249.50,194.98 L249.75,195.50 L250.00,195.98 L250.25,196.44 L250.50,196.86 L250.75,197.25 L251.00,197.61 L251.25,197.96 L251.50,198.28 L251.75,198.58 L252.00,198.86 L252.25,199.13 L252.50,199.38 L252.75,199.62 L253.00,199.85 L253.25,200.06 L253.50,200.25 L253.75,200.43 L254.00,200.60 L254.25,200.76 L254.50,200.90 L254.75,201.04 L255.00,201.17 L255.25,201.30 L255.50,201.44 L255.75,201.57 L256.00,201.71 L256.25,201.86 L256.50,202.02 L256.75,202.18 L257.00,202.36 L257.25,202.55 L257.50,202.75 L257.75,202.97 L258.00,203.19 L258.25,203.43 L258.50,203.69 L258.75,203.96 L259.00,204.24 L259.25,204.53 L259.50,204.83 L259.75,205.13 L260.00,205.44 L260.25,205.74 L260.50,206.04 L260.75,206.33 L261.00,206.61 L261.25,206.89 L261.50,207.15 L261.75,207.40 L262.00,207.65 L262.25,207.88 L262.50,208.11 L262.75,208.34 L263.00,208.56 L263.25,208.78 L263.50,209.00 L263.75,209.23 L264.00,209.45 L264.25,209.68 L264.50,209.90 L264.75,210.13 L265.00,210.36 L265.25,210.59 L265.50,210.82 L265.75,211.05 L266.00,211.27 L266.25,211.49 L266.50,211.70 L266.75,211.90 L267.00,212.10 L267.25,212.29 L267.50,212.48 L267.75,212.66 L268.00,212.83 L268.25,212.99 L268.50,213.16 L268.75,213.33 L269.00,213.50 L269.25,213.68 L269.50,213.88 L269.75,214.10 L270.00,214.34 L270.25,214.59 L270.50,214.87 L270.75,215.17 L271.00,215.49 L271.25,215.83 L271.50,216.18 L271.75,216.54 L272.00,216.90 L272.25,217.27 L272.50,217.64 L272.75,218.00 L273.00,218.36 L273.25,218.70 L273.50,219.03 L273.75,219.34 L274.00,219.64 L274.25,219.93 L274.50,220.23 L274.75,220.52 L275.00,220.80 L275.25,221.08 L275.50,221.35 L275.75,221.61 L276.00,221.85 L276.25,222.09 L276.50,222.30 L276.75,222.50 L277.00,222.68 L277.25,222.85 L277.50,223.01 L277.75,223.17 L278.00,223.33 L278.25,223.48 L278.50,223.64 L278.75,223.79 L279.00,223.94 L279.25,224.09 L279.50,224.23 L279.75,224.38 L280.00,224.52 L280.25,224.65 L280.50,224.78 L280.75,224.91 L281.00,225.03 L281.25,225.14 L281.50,225.25 L281.75,225.36 L282.00,225.47 L282.25,225.59 L282.50,225.70 L282.75,225.82 L283.00,225.95 L283.25,226.07 L283.50,226.20 L283.75,226.33 L284.00,226.46 L284.25,226.59 L284.50,226.72 L284.75,226.84 L285.00,226.97 L285.25,227.09 L285.50,227.20 L285.75,227.31 L286.00,227.42 L286.25,227.52 L286.50,227.61 L286.75,227.70 L287.00,227.77 L287.25,227.83 L287.50,227.88 L287.75,227.92 L288.00,227.94 L288.25,227.96 L288.50,227.96 L288.75,227.95 L289.00,227.93 L289.25,227.91 L289.50,227.88 L289.75,227.86 L290.00,227.85 L290.25,227.84 L290.50,227.84 L290.75,227.84 L291.00,227.86 L291.25,227.88 L291.50,227.92 L291.75,227.96 L292.00,228.00 L292.25,228.06 L292.50,228.11 L292.75,228.17 L293.00,228.23 L293.25,228.30 L293.50,228.37 L293.75,228.44 L294.00,228.52 L294.25,228.59 L294.50,228.66 L294.75,228.74 L295.00,228.81 L295.25,228.88 L295.50,228.95 L295.75,229.02 L296.00,229.09 L296.25,229.16 L296.50,229.22 L296.75,229.27 L297.00,229.31 L297.25,229.34 L297.50,229.37 L297.75,229.39 L298.00,229.40 L298.25,229.41 L298.50,229.41 L298.75,229.39 L299.00,229.37 L299.25,229.33 L299.50,229.29 L299.75,229.23 L300.00,229.16 L300.25,229.10 L300.50,229.03 L300.75,228.96 L301.00,228.90 L301.25,228.84 L301.50,228.80 L301.75,228.77 L302.00,228.77 L302.25,228.78 L302.50,228.82 L302.75,228.87 L303.00,228.95 L303.25,229.04 L303.50,229.14 L303.75,229.26 L304.00,229.39 L304.25,229.52 L304.50,229.66 L304.75,229.80 L305.00,229.93 L305.25,230.06 L305.50,230.17 L305.75,230.28 L306.00,230.38 L306.25,230.47 L306.50,230.55 L306.75,230.63 L307.00,230.69 L307.25,230.74 L307.50,230.78 L307.75,230.81 L308.00,230.84 L308.25,230.86 L308.50,230.89 L308.75,230.91 L309.00,230.93 L309.25,230.95 L309.50,230.96 L309.75,230.97 L310.00,230.98 L310.25,230.99 L310.50,231.00 L310.75,231.01 L311.00,231.02 L311.25,231.04 L311.50,231.06 L311.75,231.08 L312.00,231.11 L312.25,231.15 L312.50,231.19 L312.75,231.23 L313.00,231.27 L313.25,231.31 L313.50,231.35 L313.75,231.38 L314.00,231.42 L314.25,231.45 L314.50,231.48 L314.75,231.52 L315.00,231.56 L315.25,231.59 L315.50,231.62 L315.75,231.65 L316.00,231.67 L316.25,231.70 L316.50,231.72 L316.75,231.74 L317.00,231.76 L317.25,231.78 L317.50,231.80 L317.75,231.82 L318.00,231.85 L318.25,231.90 L318.50,231.95 L318.75,232.03 L319.00,232.12 L319.25,232.22 L319.50,232.34 L319.75,232.46 L320.00,232.58 L320.25,232.71 L320.50,232.83 L320.75,232.94 L321.00,233.04 L321.25,233.13 L321.50,233.21 L321.75,233.28 L322.00,233.33 L322.25,233.37 L322.50,233.40 L322.75,233.42 L323.00,233.44 L323.25,233.44 L323.50,233.44 L323.75,233.44 L324.00,233.43 L324.25,233.42 L324.50,233.41 L324.75,233.40 L325.00,233.40 L325.25,233.39 L325.50,233.40 L325.75,233.41 L326.00,233.42 L326.25,233.44 L326.50,233.46 L326.75,233.48 L327.00,233.49 L327.25,233.50 L327.50,233.51 L327.75,233.50 L328.00,233.49 L328.25,233.47 L328.50,233.45 L328.75,233.42 L329.00,233.39 L329.25,233.36 L329.50,233.35 L329.75,233.34 L330.00,233.34 L330.25,233.36 L330.50,233.40 L330.75,233.45 L331.00,233.52 L331.25,233.59 L331.50,233.68 L331.75,233.76 L332.00,233.85 L332.25,233.94 L332.50,234.02 L332.75,234.11 L333.00,234.18 L333.25,234.25 L333.50,234.31 L333.75,234.36 L334.00,234.40 L334.25,234.42 L334.50,234.43 L334.75,234.42 L335.00,234.40 L335.25,234.37 L335.50,234.32 L335.75,234.27 L336.00,234.21 L336.25,234.15 L336.50,234.09 L336.75,234.03 L337.00,233.97 L337.25,233.92 L337.50,233.87 L337.75,233.82 L338.00,233.78 L338.25,233.74 L338.50,233.71 L338.75,233.68 L339.00,233.65 L339.25,233.62 L339.50,233.59 L339.75,233.57 L340.00,233.54 L340.25,233.52 L340.50,233.51 L340.75,233.50 L341.00,233.50 L341.25,233.50 L341.50,233.51 L341.75,233.53 L342.00,233.57 L342.25,233.61 L342.50,233.66 L342.75,233.72 L343.00,233.79 L343.25,233.87 L343.50,233.96 L343.75,234.05 L344.00,234.14 L344.25,234.23 L344.50,234.31 L344.75,234.39 L345.00,234.45 L345.25,234.51 L345.50,234.56 L345.75,234.59 L346.00,234.62 L346.25,234.64 L346.50,234.65 L346.75,234.65 L347.00,234.64 L347.25,234.63 L347.50,234.62 L347.75,234.61 L348.00,234.59 L348.25,234.56 L348.50,234.54 L348.75,234.51 L349.00,234.49 L349.25,234.47 L349.50,234.46 L349.75,234.45 L350.00,234.45 L350.25,234.46 L350.50,234.47 L350.75,234.49 L351.00,234.51 L351.25,234.53 L351.50,234.56 L351.75,234.60 L352.00,234.64 L352.25,234.69 L352.50,234.75 L352.75,234.81 L353.00,234.88 L353.25,234.95 L353.50,235.03 L353.75,235.11 L354.00,235.19 L354.25,235.27 L354.50,235.36 L354.75,235.44 L355.00,235.52 L355.25,235.60 L355.50,235.67 L355.75,235.74 L356.00,235.80 L356.25,235.84 L356.50,235.87 L356.75,235.88 L357.00,235.89 L357.25,235.89 L357.50,235.88 L357.75,235.87 L358.00,235.86 L358.25,235.85 L358.50,235.83 L358.75,235.82 L359.00,235.81 L359.25,235.80 L359.50,235.80 L359.75,235.80 L360.00,235.80 L360.25,235.81 L360.50,235.83 L360.75,235.84 L361.00,235.86 L361.25,235.88 L361.50,235.91 L361.75,235.96 L362.00,236.01 L362.25,236.07 L362.50,236.14 L362.75,236.22 L363.00,236.31 L363.25,236.41 L363.50,236.50 L363.75,236.60 L364.00,236.70 L364.25,236.79 L364.50,236.88 L364.75,236.97 L365.00,237.06 L365.25,237.14 L365.50,237.23 L365.75,237.31 L366.00,237.38 L366.25,237.44 L366.50,237.48 L366.75,237.52 L367.00,237.54 L367.25,237.56 L367.50,237.57 L367.75,237.57 L368.00,237.57 L368.25,237.57 L368.50,237.56 L368.75,237.55 L369.00,237.54 L369.25,237.52 L369.50,237.51 L369.75,237.49 L370.00,237.47 L370.25,237.45 L370.50,237.43 L370.75,237.40 L371.00,237.38 L371.25,237.35 L371.50,237.33 L371.75,237.30 L372.00,237.27 L372.25,237.23 L372.50,237.20 L372.75,237.17 L373.00,237.13 L373.25,237.09 L373.50,237.04 L373.75,237.00 L374.00,236.95 L374.25,236.90 L374.50,236.85 L374.75,236.81 L375.00,236.78 L375.25,236.75 L375.50,236.74 L375.75,236.73 L376.00,236.73 L376.25,236.74 L376.50,236.76 L376.75,236.79 L377.00,236.82 L377.25,236.86 L377.50,236.90 L377.75,236.94 L378.00,236.98 L378.25,237.02 L378.50,237.06 L378.75,237.09 L379.00,237.11 L379.25,237.13 L379.50,237.14 L379.75,237.13 L380.00,237.11 L380.25,237.08 L380.50,237.02 L380.75,236.95 L381.00,236.85 L381.25,236.74 L381.50,236.62 L381.75,236.49 L382.00,236.36 L382.25,236.22 L382.50,236.09 L382.75,235.96 L383.00,235.84 L383.25,235.73 L383.50,235.64 L383.75,235.56 L384.00,235.49 L384.25,235.44 L384.50,235.40 L384.75,235.38 L385.00,235.37 L385.25,235.37 L385.50,235.38 L385.75,235.39 L386.00,235.40 L386.25,235.42 L386.50,235.44 L386.75,235.47 L387.00,235.49 L387.25,235.51 L387.50,235.51 L387.75,235.51 L388.00,235.50 L388.25,235.48 L388.50,235.45" stroke="#f51414"/>
<path d="M57.50,238.82 L57.75,238.82 L58.00,238.82 L58.25,238.81 L58.50,238.81 L58.75,238.80 L59.00,238.80 L59.25,238.79 L59.50,238.79 L59.75,238.78 L60.00,238.77 L60.25,238.77 L60.50,238.76 L60.75,238.76 L61.00,238.76 L61.25,238.77 L61.50,238.77 L61.75,238.77 L62.00,238.78 L62.25,238.78 L62.50,238.78 L62.75,238.77 L63.00,238.77 L63.25,238.76 L63.50,238.76 L63.75,238.75 L64.00,238.74 L64.25,238.73 L64.50,238.72 L64.75,238.71 L65.00,238.70 L65.25,238.70 L65.50,238.69 L65.75,238.69 L66.00,238.69 L66.25,238.69 L66.50,238.69 L66.75,238.70 L67.00,238.71 L67.25,238.73 L67.50,238.75 L67.75,238.77 L68.00,238.80 L68.25,238.82 L68.50,238.85 L68.75,238.87 L69.00,238.89 L69.25,238.92 L69.50,238.93 L69.75,238.95 L70.00,238.97 L70.25,238.98 L70.50,238.98 L70.75,238.99 L71.00,238.99 L71.25,238.99 L71.50,238.98 L71.75,238.98 L72.00,238.97 L72.25,238.96 L72.50,238.95 L72.75,238.93 L73.00,238.91 L73.25,238.89 L73.50,238.86 L73.75,238.83 L74.00,238.80 L74.25,238.77 L74.50,238.74 L74.75,238.70 L75.00,238.67 L75.25,238.63 L75.50,238.59 L75.75,238.56 L76.00,238.52 L76.25,238.49 L76.50,238.46 L76.75,238.44 L77.00,238.42 L77.25,238.40 L77.50,238.39 L77.75,238.38 L78.00,238.38 L78.25,238.38 L78.50,238.38 L78.75,238.39 L79.00,238.40 L79.25,238.40 L79.50,238.41 L79.75,238.42 L80.00,238.42 L80.25,238.43 L80.50,238.43 L80.75,238.43 L81.00,238.42 L81.25,238.42 L81.50,238.41 L81.75,238.40 L82.00,238.38 L82.25,238.37 L82.50,238.36 L82.75,238.35 L83.00,238.34 L83.25,238.33 L83.50,238.32 L83.75,238.31 L84.00,238.30 L84.25,238.30 L84.50,238.29 L84.75,238.29 L85.00,238.29 L85.25,238.29 L85.50,238.29 L85.75,238.29 L86.00,238.29 L86.25,238.28 L86.50,238.27 L86.75,238.26 L87.00,238.25 L87.25,238.23 L87.50,238.21 L87.75,238.19 L88.00,238.17 L88.25,238.15 L88.50,238.12 L88.75,238.09 L89.00,238.05 L89.25,238.02 L89.50,237.98 L89.75,237.94 L90.00,237.90 L90.25,237.87 L90.50,237.83 L90.75,237.80 L91.00,237.77 L91.25,237.74 L91.50,237.71 L91.75,237.68 L92.00,237.66 L92.25,237.65 L92.50,237.64 L92.75,237.64 L93.00,237.64 L93.25,237.64 L93.50,237.65 L93.75,237.66 L94.00,237.68 L94.25,237.69 L94.50,237.71 L94.75,237.73 L95.00,237.74 L95.25,237.75 L95.50,237.77 L95.75,237.78 L96.00,237.78 L96.25,237.79 L96.50,237.79 L96.75,237.79 L97.00,237.78 L97.25,237.77 L97.50,237.76 L97.75,237.75 L98.00,237.74 L98.25,237.72 L98.50,237.71 L98.75,237.70 L99.00,237.69 L99.25,237.67 L99.50,237.67 L99.75,237.66 L100.00,237.65 L100.25,237.64 L100.50,237.63 L100.75,237.62 L101.00,237.61 L101.25,237.60 L101.50,237.58 L101.75,237.56 L102.00,237.53 L102.25,237.51 L102.50,237.48 L102.75,237.45 L103.00,237.41 L103.25,237.38 L103.50,237.34 L103.75,237.30 L104.00,237.27 L104.25,237.23 L104.50,237.20 L104.75,237.17 L105.00,237.15 L105.25,237.12 L105.50,237.10 L105.75,237.09 L106.00,237.07 L106.25,237.06 L106.50,237.06 L106.75,237.05 L107.00,237.04 L107.25,237.03 L107.50,237.02 L107.75,237.01 L108.00,237.00 L108.25,236.98 L108.50,236.96 L108.75,236.94 L109.00,236.93 L109.25,236.91 L109.50,236.90 L109.75,236.89 L110.00,236.89 L110.25,236.89 L110.50,236.90 L110.75,236.92 L111.00,236.94 L111.25,236.96 L111.50,236.99 L111.75,237.02 L112.00,237.06 L112.25,237.09 L112.50,237.12 L112.75,237.16 L113.00,237.18 L113.25,237.20 L113.50,237.21 L113.75,237.22 L114.00,237.21 L114.25,237.20 L114.50,237.18 L114.75,237.14 L115.00,237.10 L115.25,237.05 L115.50,237.00 L115.75,236.94 L116.00,236.87 L116.25,236.81 L116.50,236.75 L116.75,236.69 L117.00,236.63 L117.25,236.58 L117.50,236.53 L117.75,236.49 L118.00,236.45 L118.25,236.42 L118.50,236.40 L118.75,236.38 L119.00,236.36 L119.25,236.35 L119.50,236.35 L119.75,236.34 L120.00,236.34 L120.25,236.34 L120.50,236.35 L120.75,236.35 L121.00,236.35 L121.25,236.35 L121.50,236.34 L121.75,236.33 L122.00,236.32 L122.25,236.30 L122.50,236.28 L122.75,236.25 L123.00,236.23 L123.25,236.21 L123.50,236.18 L123.75,236.16 L124.00,236.15 L124.25,236.14 L124.50,236.13 L124.75,236.13 L125.00,236.14 L125.25,236.15 L125.50,236.16 L125.75,236.18 L126.00,236.21 L126.25,236.23 L126.50,236.25 L126.75,236.28 L127.00,236.30 L127.25,236.31 L127.50,236.33 L127.75,236.33 L128.00,236.33 L128.25,236.32 L128.50,236.30 L128.75,236.28 L129.00,236.24 L129.25,236.20 L129.50,236.15 L129.75,236.10 L130.00,236.05 L130.25,235.99 L130.50,235.94 L130.75,235.89 L131.00,235.84 L131.25,235.80 L131.50,235.77 L131.75,235.74 L132.00,235.72 L132.25,235.70 L132.50,235.68 L132.75,235.67 L133.00,235.65 L133.25,235.64 L133.50,235.62 L133.75,235.61 L134.00,235.60 L134.25,235.58 L134.50,235.57 L134.75,235.56 L135.00,235.54 L135.25,235.53 L135.50,235.51 L135.75,235.50 L136.00,235.49 L136.25,235.47 L136.50,235.45 L136.75,235.44 L137.00,235.42 L137.25,235.41 L137.50,235.39 L137.75,235.38 L138.00,235.36 L138.25,235.35 L138.50,235.34 L138.75,235.33 L139.00,235.32 L139.25,235.31 L139.50,235.31 L139.75,235.30 L140.00,235.30 L140.25,235.30 L140.50,235.30 L140.75,235.31 L141.00,235.31 L141.25,235.32 L141.50,235.33 L141.75,235.35 L142.00,235.36 L142.25,235.38 L142.50,235.39 L142.75,235.40 L143.00,235.40 L143.25,235.40 L143.50,235.39 L143.75,235.38 L144.00,235.36 L144.25,235.33 L144.50,235.30 L144.75,235.26 L145.00,235.22 L145.25,235.17 L145.50,235.13 L145.75,235.07 L146.00,235.02 L146.25,234.98 L146.50,234.93 L146.75,234.89 L147.00,234.86 L147.25,234.83 L147.50,234.80 L147.75,234.78 L148.00,234.76 L148.25,234.75 L148.50,234.74 L148.75,234.73 L149.00,234.72 L149.25,234.71 L149.50,234.70 L149.75,234.68 L150.00,234.66 L150.25,234.64 L150.50,234.61 L150.75,234.57 L151.00,234.53 L151.25,234.49 L151.50,234.45 L151.75,234.41 L152.00,234.36 L152.25,234.31 L152.50,234.26 L152.75,234.22 L153.00,234.17 L153.25,234.12 L153.50,234.07 L153.75,234.02 L154.00,233.97 L154.25,233.92 L154.50,233.87 L154.75,233.82 L155.00,233.78 L155.25,233.73 L155.50,233.68 L155.75,233.63 L156.00,233.58 L156.25,233.54 L156.50,233.49 L156.75,233.44 L157.00,233.40 L157.25,233.35 L157.50,233.31 L157.75,233.27 L158.00,233.23 L158.25,233.21 L158.50,233.18 L158.75,233.16 L159.00,233.15 L159.25,233.14 L159.50,233.14 L159.75,233.13 L160.00,233.11 L160.25,233.10 L160.50,233.08 L160.75,233.06 L161.00,233.03 L161.25,233.00 L161.50,232.97 L161.75,232.93 L162.00,232.88 L162.25,232.83 L162.50,232.78 L162.75,232.72 L163.00,232.67 L163.25,232.61 L163.50,232.55 L163.75,232.49 L164.00,232.43 L164.25,232.37 L164.50,232.31 L164.75,232.26 L165.00,232.20 L165.25,232.14 L165.50,232.09 L165.75,232.04 L166.00,231.99 L166.25,231.94 L166.50,231.88 L166.75,231.83 L167.00,231.77 L167.25,231.71 L167.50,231.65 L167.75,231.58 L168.00,231.51 L168.25,231.44 L168.50,231.37 L168.75,231.30 L169.00,231.24 L169.25,231.17 L169.50,231.10 L169.75,231.04 L170.00,230.97 L170.25,230.90 L170.50,230.83 L170.75,230.76 L171.00,230.68 L171.25,230.61 L171.50,230.54 L171.75,230.47 L172.00,230.39 L172.25,230.32 L172.50,230.24 L172.75,230.17 L173.00,230.09 L173.25,230.01 L173.50,229.94 L173.75,229.86 L174.00,229.79 L174.25,229.72 L174.50,229.65 L174.75,229.57 L175.00,229.50 L175.25,229.42 L175.50,229.35 L175.75,229.28 L176.00,229.21 L176.25,229.14 L176.50,229.07 L176.75,229.00 L177.00,228.93 L177.25,228.85 L177.50,228.78 L177.75,228.70 L178.00,228.62 L178.25,228.54 L178.50,228.47 L178.75,228.39 L179.00,228.31 L179.25,228.23 L179.50,228.15 L179.75,228.07 L180.00,227.99 L180.25,227.90 L180.50,227.81 L180.75,227.71 L181.00,227.61 L181.25,227.51 L181.50,227.40 L181.75,227.29 L182.00,227.18 L182.25,227.06 L182.50,226.95 L182.75,226.83 L183.00,226.72 L183.25,226.60 L183.50,226.49 L183.75,226.38 L184.00,226.27 L184.25,226.16 L184.50,226.06 L184.75,225.95 L185.00,225.85 L185.25,225.75 L185.50,225.66 L185.75,225.57 L186.00,225.49 L186.25,225.40 L186.50,225.32 L186.75,225.23 L187.00,225.15 L187.25,225.06 L187.50,224.97 L187.75,224.87 L188.00,224.77 L188.25,224.66 L188.50,224.54 L188.75,224.42 L189.00,224.29 L189.25,224.16 L189.50,224.02 L189.75,223.88 L190.00,223.73 L190.25,223.58 L190.50,223.42 L190.75,223.25 L191.00,223.07 L191.25,222.89 L191.50,222.70 L191.75,222.51 L192.00,222.31 L192.25,222.11 L192.50,221.91 L192.75,221.71 L193.00,221.50 L193.25,221.30 L193.50,221.10 L193.75,220.89 L194.00,220.69 L194.25,220.49 L194.50,220.29 L194.75,220.09 L195.00,219.89 L195.25,219.69 L195.50,219.49 L195.75,219.29 L196.00,219.09 L196.25,218.89 L196.50,218.70 L196.75,218.50 L197.00,218.30 L197.25,218.09 L197.50,217.89 L197.75,217.68 L198.00,217.46 L198.25,217.24 L198.50,217.02 L198.75,216.78 L199.00,216.55 L199.25,216.30 L199.50,216.05 L199.75,215.79 L200.00,215.53 L200.25,215.25 L200.50,214.98 L200.75,214.70 L201.00,214.41 L201.25,214.12 L201.50,213.82 L201.75,213.52 L202.00,213.21 L202.25,212.90 L202.50,212.58 L202.75,212.26 L203.00,211.93 L203.25,211.59 L203.50,211.24 L203.75,210.89 L204.00,210.53 L204.25,210.16 L204.50,209.78 L204.75,209.39 L205.00,209.00 L205.25,208.59 L205.50,208.17 L205.75,207.73 L206.00,207.28 L206.25,206.81 L206.50,206.33 L206.75,205.83 L207.00,205.32 L207.25,204.80 L207.50,204.26 L207.75,203.72 L208.00,203.16 L208.25,202.58 L208.50,202.00 L208.75,201.39 L209.00,200.73 L209.25,200.04 L209.50,199.32 L209.75,198.59 L210.00,197.85 L210.25,197.11 L210.50,196.38 L210.75,195.68 L211.00,195.00 L211.25,194.37 L211.50,193.79 L211.75,193.23 L212.00,192.67 L212.25,192.10 L212.50,191.47 L212.75,190.78 L213.00,190.00 L213.25,189.07 L213.50,187.98 L213.75,186.77 L214.00,185.46 L214.25,184.09 L214.50,182.70 L214.75,181.33 L215.00,180.00 L215.25,178.71 L215.50,177.41 L215.75,176.09 L216.00,174.76 L216.25,173.40 L216.50,172.00 L216.75,170.55 L217.00,169.04 L217.25,167.52 L217.50,166.00 L217.75,164.57 L218.00,163.19 L218.25,161.71 L218.50,160.00 L218.75,157.85 L219.00,155.31 L219.25,152.62 L219.50,150.00 L219.75,147.50 L220.00,145.00 L220.25,142.50 L220.50,140.00 L220.75,137.50 L221.00,135.00 L221.25,132.50 L221.50,130.00 L221.75,127.42 L222.00,124.78 L222.25,122.25 L222.50,120.00 L222.75,117.97 L223.00,116.07 L223.25,114.39 L223.50,113.00 L223.75,111.86 L224.00,110.88 L224.25,110.12 L224.50,109.52 L224.75,109.02 L225.00,108.80 L225.25,109.02 L225.50,109.52 L225.75,110.12 L226.00,110.92 L226.25,111.91 L226.50,113.00 L226.75,114.13 L227.00,115.36 L227.25,116.69 L227.50,118.12 L227.75,119.67 L228.00,121.40 L228.25,123.36 L228.50,125.48 L228.75,127.72 L229.00,130.00 L229.25,132.42 L229.50,135.00 L229.75,137.58 L230.00,140.00 L230.25,142.22 L230.50,144.34 L230.75,146.39 L231.00,148.40 L231.25,150.40 L231.50,152.39 L231.75,154.36 L232.00,156.29 L232.25,158.18 L232.50,160.00 L232.75,161.78 L233.00,163.52 L233.25,165.23 L233.50,166.89 L233.75,168.48 L234.00,170.00 L234.25,171.45 L234.50,172.85 L234.75,174.19 L235.00,175.50 L235.25,176.76 L235.50,178.00 L235.75,179.18 L236.00,180.29 L236.25,181.35 L236.50,182.40 L236.75,183.46 L237.00,184.56 L237.25,185.73 L237.50,187.00 L237.75,188.54 L238.00,190.00 L238.25,191.11 L238.50,192.11 L238.75,193.03 L239.00,193.89 L239.25,194.69 L239.50,195.47 L239.75,196.23 L240.00,197.00 L240.25,197.78 L240.50,198.54 L240.75,199.29 L241.00,200.02 L241.25,200.74 L241.50,201.44 L241.75,202.11 L242.00,202.77 L242.25,203.40 L242.50,204.00 L242.75,204.59 L243.00,205.16 L243.25,205.73 L243.50,206.29 L243.75,206.84 L244.00,207.38 L244.25,207.90 L244.50,208.40 L244.75,208.89 L245.00,209.35 L245.25,209.80 L245.50,210.22 L245.75,210.62 L246.00,211.00 L246.25,211.35 L246.50,211.69 L246.75,212.01 L247.00,212.32 L247.25,212.61 L247.50,212.89 L247.75,213.16 L248.00,213.42 L248.25,213.68 L248.50,213.93 L248.75,214.18 L249.00,214.43 L249.25,214.68 L249.50,214.94 L249.75,215.19 L250.00,215.45 L250.25,215.72 L250.50,215.98 L250.75,216.24 L251.00,216.50 L251.25,216.77 L251.50,217.03 L251.75,217.29 L252.00,217.54 L252.25,217.80 L252.50,218.05 L252.75,218.31 L253.00,218.56 L253.25,218.80 L253.50,219.05 L253.75,219.29 L254.00,219.53 L254.25,219.77 L254.50,220.00 L254.75,220.23 L255.00,220.46 L255.25,220.69 L255.50,220.91 L255.75,221.14 L256.00,221.36 L256.25,221.58 L256.50,221.79 L256.75,222.01 L257.00,222.22 L257.25,222.43 L257.50,222.65 L257.75,222.86 L258.00,223.07 L258.25,223.28 L258.50,223.49 L258.75,223.70 L259.00,223.90 L259.25,224.10 L259.50,224.30 L259.75,224.50 L260.00,224.68 L260.25,224.87 L260.50,225.05 L260.75,225.22 L261.00,225.39 L261.25,225.56 L261.50,225.72 L261.75,225.88 L262.00,226.03 L262.25,226.18 L262.50,226.33 L262.75,226.47 L263.00,226.61 L263.25,226.74 L263.50,226.88 L263.75,227.01 L264.00,227.14 L264.25,227.27 L264.50,227.40 L264.75,227.53 L265.00,227.66 L265.25,227.78 L265.50,227.90 L265.75,228.03 L266.00,228.14 L266.25,228.26 L266.50,228.37 L266.75,228.48 L267.00,228.59 L267.25,228.70 L267.50,228.80 L267.75,228.90 L268.00,228.99 L268.25,229.09 L268.50,229.18 L268.75,229.27 L269.00,229.35 L269.25,229.43 L269.50,229.51 L269.75,229.59 L270.00,229.66 L270.25,229.73 L270.50,229.80 L270.75,229.87 L271.00,229.93 L271.25,230.00 L271.50,230.06 L271.75,230.13 L272.00,230.19 L272.25,230.26 L272.50,230.32 L272.75,230.39 L273.00,230.46 L273.25,230.54 L273.50,230.61 L273.75,230.69 L274.00,230.77 L274.25,230.84 L274.50,230.92 L274.75,230.99 L275.00,231.06 L275.25,231.13 L275.50,231.19 L275.75,231.24 L276.00,231.29 L276.25,231.32 L276.50,231.35 L276.75,231.36 L277.00,231.37 L277.25,231.38 L277.50,231.38 L277.75,231.37 L278.00,231.37 L278.25,231.36 L278.50,231.36 L278.75,231.35 L279.00,231.35 L279.25,231.36 L279.50,231.36 L279.75,231.38 L280.00,231.40 L280.25,231.43 L280.50,231.46 L280.75,231.51 L281.00,231.56 L281.25,231.61 L281.50,231.68 L281.75,231.75 L282.00,231.82 L282.25,231.90 L282.50,231.98 L282.75,232.07 L283.00,232.15 L283.25,232.24 L283.50,232.32 L283.75,232.40 L284.00,232.48 L284.25,232.56 L284.50,232.63 L284.75,232.70 L285.00,232.77 L285.25,232.82 L285.50,232.88 L285.75,232.93 L286.00,232.98 L286.25,233.03 L286.50,233.06 L286.75,233.09 L287.00,233.12 L287.25,233.14 L287.50,233.16 L287.75,233.19 L288.00,233.21 L288.25,233.23 L288.50,233.26 L288.75,233.29 L289.00,233.32 L289.25,233.35 L289.50,233.39 L289.75,233.43 L290.00,233.48 L290.25,233.53 L290.50,233.57 L290.75,233.63 L291.00,233.68 L291.25,233.74 L291.50,233.79 L291.75,233.84 L292.00,233.89 L292.25,233.94 L292.50,233.99 L292.75,234.03 L293.00,234.06 L293.25,234.09 L293.50,234.11 L293.75,234.13 L294.00,234.14 L294.25,234.15 L294.50,234.15 L294.75,234.16 L295.00,234.16 L295.25,234.16 L295.50,234.16 L295.75,234.17 L296.00,234.18 L296.25,234.19 L296.50,234.20 L296.75,234.21 L297.00,234.23 L297.25,234.25 L297.50,234.27 L297.75,234.28 L298.00,234.31 L298.25,234.33 L298.50,234.35 L298.75,234.37 L299.00,234.38 L299.25,234.40 L299.50,234.41 L299.75,234.42 L300.00,234.42 L300.25,234.43 L300.50,234.43 L300.75,234.43 L301.00,234.43 L301.25,234.44 L301.50,234.44 L301.75,234.45 L302.00,234.46 L302.25,234.48 L302.50,234.50 L302.75,234.52 L303.00,234.55 L303.25,234.58 L303.50,234.61 L303.75,234.65 L304.00,234.68 L304.25,234.72 L304.50,234.76 L304.75,234.79 L305.00,234.83 L305.25,234.86 L305.50,234.88 L305.75,234.91 L306.00,234.93 L306.25,234.95 L306.50,234.97 L306.75,234.99 L307.00,235.02 L307.25,235.04 L307.50,235.07 L307.75,235.09 L308.00,235.13 L308.25,235.16 L308.50,235.20 L308.75,235.23 L309.00,235.27 L309.25,235.31 L309.50,235.34 L309.75,235.38 L310.00,235.41 L310.25,235.44 L310.50,235.47 L310.75,235.49 L311.00,235.51 L311.25,235.53 L311.50,235.54 L311.75,235.56 L312.00,235.57 L312.25,235.59 L312.50,235.60 L312.75,235.61 L313.00,235.63 L313.25,235.64 L313.50,235.66 L313.75,235.68 L314.00,235.70 L314.25,235.72 L314.50,235.74 L314.75,235.77 L315.00,235.79 L315.25,235.82 L315.50,235.85 L315.75,235.87 L316.00,235.89 L316.25,235.91 L316.50,235.93 L316.75,235.95 L317.00,235.96 L317.25,235.97 L317.50,235.98 L317.75,235.99 L318.00,235.99 L318.25,236.00 L318.50,236.00 L318.75,236.01 L319.00,236.01 L319.25,236.01 L319.50,236.01 L319.75,236.01 L320.00,236.01 L320.25,236.01 L320.50,236.02 L320.75,236.02 L321.00,236.03 L321.25,236.05 L321.50,236.06 L321.75,236.08 L322.00,236.10 L322.25,236.12 L322.50,236.14 L322.75,236.16 L323.00,236.19 L323.25,236.21 L323.50,236.24 L323.75,236.27 L324.00,236.31 L324.25,236.34 L324.50,236.37 L324.75,236.41 L325.00,236.44 L325.25,236.47 L325.50,236.51 L325.75,236.53 L326.00,236.56 L326.25,236.58 L326.50,236.60 L326.75,236.61 L327.00,236.62 L327.25,236.63 L327.50,236.65 L327.75,236.67 L328.00,236.69 L328.25,236.71 L328.50,236.73 L328.75,236.76 L329.00,236.79 L329.25,236.82 L329.50,236.85 L329.75,236.89 L330.00,236.92 L330.25,236.95 L330.50,236.98 L330.75,237.01 L331.00,237.04 L331.25,237.06 L331.50,237.08 L331.75,237.10 L332.00,237.11 L332.25,237.12 L332.50,237.13 L332.75,237.14 L333.00,237.14 L333.25,237.14 L333.50,237.14 L333.75,237.14 L334.00,237.15 L334.25,237.15 L334.50,237.16 L334.75,237.17 L335.00,237.19 L335.25,237.21 L335.50,237.23 L335.75,237.25 L336.00,237.28 L336.25,237.30 L336.50,237.32 L336.75,237.35 L337.00,237.37 L337.25,237.38 L337.50,237.40 L337.75,237.42 L338.00,237.43 L338.25,237.44 L338.50,237.45 L338.75,237.46 L339.00,237.46 L339.25,237.45 L339.50,237.45 L339.75,237.44 L340.00,237.43 L340.25,237.41 L340.50,237.40 L340.75,237.39 L341.00,237.38 L341.25,237.37 L341.50,237.36 L341.75,237.36 L342.00,237.35 L342.25,237.35 L342.50,237.35 L342.75,237.36 L343.00,237.36 L343.25,237.37 L343.50,237.39 L343.75,237.40 L344.00,237.42 L344.25,237.44 L344.50,237.47 L344.75,237.50 L345.00,237.53 L345.25,237.57 L345.50,237.61 L345.75,237.66 L346.00,237.70 L346.25,237.75 L346.50,237.79 L346.75,237.84 L347.00,237.88 L347.25,237.91 L347.50,237.95 L347.75,237.98 L348.00,238.00 L348.25,238.02 L348.50,238.04 L348.75,238.05 L349.00,238.05 L349.25,238.05 L349.50,238.05 L349.75,238.04 L350.00,238.03 L350.25,238.02 L350.50,238.01 L350.75,237.99 L351.00,237.98 L351.25,237.97 L351.50,237.96 L351.75,237.95 L352.00,237.95 L352.25,237.95 L352.50,237.96 L352.75,237.97 L353.00,237.99 L353.25,238.01 L353.50,238.04 L353.75,238.07 L354.00,238.10 L354.25,238.14 L354.50,238.17 L354.75,238.21 L355.00,238.24 L355.25,238.28 L355.50,238.31 L355.75,238.35 L356.00,238.37 L356.25,238.40 L356.50,238.42 L356.75,238.43 L357.00,238.44 L357.25,238.44 L357.50,238.44 L357.75,238.43 L358.00,238.42 L358.25,238.41 L358.50,238.40 L358.75,238.39 L359.00,238.39 L359.25,238.38 L359.50,238.39 L359.75,238.40 L360.00,238.42 L360.25,238.44 L360.50,238.48 L360.75,238.52 L361.00,238.56 L361.25,238.61 L361.50,238.66 L361.75,238.71 L362.00,238.77 L362.25,238.83 L362.50,238.88 L362.75,238.93 L363.00,238.98 L363.25,239.03 L363.50,239.07 L363.75,239.10 L364.00,239.13 L364.25,239.15 L364.50,239.16 L364.75,239.17 L365.00,239.17 L365.25,239.16 L365.50,239.15 L365.75,239.14 L366.00,239.12 L366.25,239.10 L366.50,239.08 L366.75,239.06 L367.00,239.04 L367.25,239.02 L367.50,239.00 L367.75,238.99 L368.00,238.97 L368.25,238.96 L368.50,238.95 L368.75,238.94 L369.00,238.94 L369.25,238.93 L369.50,238.93 L369.75,238.94 L370.00,238.94 L370.25,238.95 L370.50,238.97 L370.75,238.98 L371.00,239.01 L371.25,239.03 L371.50,239.06 L371.75,239.09 L372.00,239.12 L372.25,239.15 L372.50,239.19 L372.75,239.22 L373.00,239.25 L373.25,239.28 L373.50,239.31 L373.75,239.33 L374.00,239.34 L374.25,239.35 L374.50,239.36 L374.75,239.37 L375.00,239.38 L375.25,239.38 L375.50,239.39 L375.75,239.40 L376.00,239.41 L376.25,239.41 L376.50,239.42 L376.75,239.43 L377.00,239.44 L377.25,239.45 L377.50,239.46 L377.75,239.48 L378.00,239.49 L378.25,239.50 L378.50,239.51 L378.75,239.52 L379.00,239.53 L379.25,239.54 L379.50,239.55 L379.75,239.56 L380.00,239.56 L380.25,239.57 L380.50,239.57 L380.75,239.56 L381.00,239.56 L381.25,239.55 L381.50,239.54 L381.75,239.53 L382.00,239.52 L382.25,239.51 L382.50,239.51 L382.75,239.51 L383.00,239.51 L383.25,239.51 L383.50,239.51 L383.75,239.52 L384.00,239.53 L384.25,239.54 L384.50,239.55 L384.75,239.56 L385.00,239.57 L385.25,239.58 L385.50,239.59 L385.75,239.60 L386.00,239.60 L386.25,239.61 L386.50,239.61 L386.75,239.61 L387.00,239.61 L387.25,239.62 L387.50,239.62 L387.75,239.62 L388.00,239.62 L388.25,239.63 L388.50,239.63" stroke="#2222fa"/>
<path d="M57.50,243.06 L57.75,243.06 L58.00,243.07 L58.25,243.06 L58.50,243.06 L58.75,243.06 L59.00,243.06 L59.25,243.05 L59.50,243.05 L59.75,243.05 L60.00,243.05 L60.25,243.05 L60.50,243.05 L60.75,243.05 L61.00,243.05 L61.25,243.05 L61.50,243.05 L61.75,243.05 L62.00,243.05 L62.25,243.05 L62.50,243.06 L62.75,243.06 L63.00,243.06 L63.25,243.06 L63.50,243.07 L63.75,243.07 L64.00,243.07 L64.25,243.08 L64.50,243.09 L64.75,243.09 L65.00,243.10 L65.25,243.10 L65.50,243.09 L65.75,243.09 L66.00,243.08 L66.25,243.07 L66.50,243.05 L66.75,243.04 L67.00,243.02 L67.25,243.01 L67.50,242.99 L67.75,242.97 L68.00,242.96 L68.25,242.94 L68.50,242.93 L68.75,242.92 L69.00,242.90 L69.25,242.89 L69.50,242.88 L69.75,242.88 L70.00,242.87 L70.25,242.86 L70.50,242.85 L70.75,242.84 L71.00,242.83 L71.25,242.82 L71.50,242.81 L71.75,242.80 L72.00,242.79 L72.25,242.78 L72.50,242.77 L72.75,242.77 L73.00,242.76 L73.25,242.76 L73.50,242.76 L73.75,242.76 L74.00,242.76 L74.25,242.76 L74.50,242.76 L74.75,242.77 L75.00,242.77 L75.25,242.77 L75.50,242.78 L75.75,242.78 L76.00,242.78 L76.25,242.77 L76.50,242.76 L76.75,242.75 L77.00,242.73 L77.25,242.71 L77.50,242.70 L77.75,242.68 L78.00,242.66 L78.25,242.64 L78.50,242.63 L78.75,242.61 L79.00,242.60 L79.25,242.59 L79.50,242.57 L79.75,242.56 L80.00,242.55 L80.25,242.54 L80.50,242.53 L80.75,242.51 L81.00,242.50 L81.25,242.48 L81.50,242.47 L81.75,242.45 L82.00,242.43 L82.25,242.42 L82.50,242.40 L82.75,242.39 L83.00,242.39 L83.25,242.39 L83.50,242.39 L83.75,242.40 L84.00,242.41 L84.25,242.43 L84.50,242.44 L84.75,242.46 L85.00,242.49 L85.25,242.51 L85.50,242.53 L85.75,242.55 L86.00,242.57 L86.25,242.58 L86.50,242.59 L86.75,242.60 L87.00,242.60 L87.25,242.59 L87.50,242.58 L87.75,242.56 L88.00,242.54 L88.25,242.51 L88.50,242.49 L88.75,242.46 L89.00,242.43 L89.25,242.40 L89.50,242.37 L89.75,242.34 L90.00,242.31 L90.25,242.28 L90.50,242.26 L90.75,242.24 L91.00,242.21 L91.25,242.19 L91.50,242.18 L91.75,242.16 L92.00,242.14 L92.25,242.12 L92.50,242.10 L92.75,242.08 L93.00,242.06 L93.25,242.04 L93.50,242.02 L93.75,242.00 L94.00,241.98 L94.25,241.96 L94.50,241.95 L94.75,241.94 L95.00,241.94 L95.25,241.94 L95.50,241.94 L95.75,241.95 L96.00,241.96 L96.25,241.97 L96.50,241.99 L96.75,242.00 L97.00,242.02 L97.25,242.03 L97.50,242.04 L97.75,242.06 L98.00,242.07 L98.25,242.08 L98.50,242.09 L98.75,242.10 L99.00,242.10 L99.25,242.10 L99.50,242.10 L99.75,242.09 L100.00,242.08 L100.25,242.06 L100.50,242.04 L100.75,242.01 L101.00,241.97 L101.25,241.94 L101.50,241.90 L101.75,241.87 L102.00,241.83 L102.25,241.80 L102.50,241.76 L102.75,241.73 L103.00,241.71 L103.25,241.69 L103.50,241.67 L103.75,241.65 L104.00,241.64 L104.25,241.63 L104.50,241.62 L104.75,241.62 L105.00,241.61 L105.25,241.61 L105.50,241.62 L105.75,241.62 L106.00,241.64 L106.25,241.65 L106.50,241.67 L106.75,241.69 L107.00,241.71 L107.25,241.73 L107.50,241.75 L107.75,241.77 L108.00,241.80 L108.25,241.82 L108.50,241.84 L108.75,241.87 L109.00,241.89 L109.25,241.91 L109.50,241.94 L109.75,241.96 L110.00,241.97 L110.25,241.99 L110.50,241.99 L110.75,241.99 L111.00,241.99 L111.25,241.98 L111.50,241.96 L111.75,241.94 L112.00,241.91 L112.25,241.87 L112.50,241.83 L112.75,241.79 L113.00,241.74 L113.25,241.70 L113.50,241.66 L113.75,241.62 L114.00,241.59 L114.25,241.56 L114.50,241.54 L114.75,241.51 L115.00,241.50 L115.25,241.48 L115.50,241.47 L115.75,241.47 L116.00,241.47 L116.25,241.47 L116.50,241.47 L116.75,241.47 L117.00,241.47 L117.25,241.47 L117.50,241.47 L117.75,241.47 L118.00,241.46 L118.25,241.45 L118.50,241.43 L118.75,241.41 L119.00,241.39 L119.25,241.37 L119.50,241.35 L119.75,241.33 L120.00,241.30 L120.25,241.28 L120.50,241.26 L120.75,241.24 L121.00,241.22 L121.25,241.20 L121.50,241.19 L121.75,241.18 L122.00,241.17 L122.25,241.16 L122.50,241.16 L122.75,241.16 L123.00,241.16 L123.25,241.16 L123.50,241.16 L123.75,241.17 L124.00,241.17 L124.25,241.17 L124.50,241.18 L124.75,241.18 L125.00,241.19 L125.25,241.19 L125.50,241.19 L125.75,241.19 L126.00,241.18 L126.25,241.18 L126.50,241.17 L126.75,241.17 L127.00,241.16 L127.25,241.16 L127.50,241.16 L127.75,241.16 L128.00,241.16 L128.25,241.16 L128.50,241.16 L128.75,241.16 L129.00,241.16 L129.25,241.15 L129.50,241.15 L129.75,241.14 L130.00,241.13 L130.25,241.12 L130.50,241.10 L130.75,241.08 L131.00,241.06 L131.25,241.04 L131.50,241.01 L131.75,240.98 L132.00,240.94 L132.25,240.91 L132.50,240.87 L132.75,240.84 L133.00,240.81 L133.25,240.78 L133.50,240.75 L133.75,240.73 L134.00,240.70 L134.25,240.68 L134.50,240.66 L134.75,240.65 L135.00,240.64 L135.25,240.63 L135.50,240.62 L135.75,240.61 L136.00,240.60 L136.25,240.60 L136.50,240.59 L136.75,240.58 L137.00,240.57 L137.25,240.56 L137.50,240.55 L137.75,240.53 L138.00,240.51 L138.25,240.50 L138.50,240.48 L138.75,240.46 L139.00,240.45 L139.25,240.43 L139.50,240.42 L139.75,240.41 L140.00,240.40 L140.25,240.38 L140.50,240.37 L140.75,240.35 L141.00,240.34 L141.25,240.32 L141.50,240.31 L141.75,240.28 L142.00,240.26 L142.25,240.23 L142.50,240.20 L142.75,240.17 L143.00,240.14 L143.25,240.11 L143.50,240.08 L143.75,240.06 L144.00,240.03 L144.25,240.01 L144.50,239.98 L144.75,239.96 L145.00,239.94 L145.25,239.92 L145.50,239.91 L145.75,239.89 L146.00,239.88 L146.25,239.87 L146.50,239.86 L146.75,239.85 L147.00,239.84 L147.25,239.84 L147.50,239.83 L147.75,239.82 L148.00,239.81 L148.25,239.80 L148.50,239.79 L148.75,239.77 L149.00,239.75 L149.25,239.72 L149.50,239.69 L149.75,239.66 L150.00,239.62 L150.25,239.58 L150.50,239.53 L150.75,239.48 L151.00,239.44 L151.25,239.39 L151.50,239.34 L151.75,239.30 L152.00,239.25 L152.25,239.21 L152.50,239.16 L152.75,239.12 L153.00,239.08 L153.25,239.04 L153.50,239.01 L153.75,238.97 L154.00,238.94 L154.25,238.92 L154.50,238.89 L154.75,238.87 L155.00,238.84 L155.25,238.82 L155.50,238.80 L155.75,238.77 L156.00,238.75 L156.25,238.72 L156.50,238.68 L156.75,238.65 L157.00,238.61 L157.25,238.58 L157.50,238.55 L157.75,238.51 L158.00,238.48 L158.25,238.45 L158.50,238.41 L158.75,238.38 L159.00,238.36 L159.25,238.33 L159.50,238.31 L159.75,238.28 L160.00,238.25 L160.25,238.23 L160.50,238.20 L160.75,238.17 L161.00,238.13 L161.25,238.10 L161.50,238.06 L161.75,238.02 L162.00,237.98 L162.25,237.94 L162.50,237.90 L162.75,237.86 L163.00,237.82 L163.25,237.78 L163.50,237.74 L163.75,237.70 L164.00,237.66 L164.25,237.61 L164.50,237.57 L164.75,237.52 L165.00,237.48 L165.25,237.43 L165.50,237.37 L165.75,237.32 L166.00,237.27 L166.25,237.21 L166.50,237.15 L166.75,237.09 L167.00,237.03 L167.25,236.97 L167.50,236.91 L167.75,236.86 L168.00,236.81 L168.25,236.76 L168.50,236.71 L168.75,236.67 L169.00,236.62 L169.25,236.58 L169.50,236.55 L169.75,236.51 L170.00,236.47 L170.25,236.44 L170.50,236.41 L170.75,236.38 L171.00,236.35 L171.25,236.32 L171.50,236.29 L171.75,236.27 L172.00,236.24 L172.25,236.21 L172.50,236.18 L172.75,236.15 L173.00,236.12 L173.25,236.09 L173.50,236.06 L173.75,236.03 L174.00,235.99 L174.25,235.96 L174.50,235.93 L174.75,235.89 L175.00,235.86 L175.25,235.82 L175.50,235.78 L175.75,235.73 L176.00,235.68 L176.25,235.64 L176.50,235.58 L176.75,235.53 L177.00,235.47 L177.25,235.41 L177.50,235.34 L177.75,235.28 L178.00,235.21 L178.25,235.15 L178.50,235.09 L178.75,235.02 L179.00,234.96 L179.25,234.90 L179.50,234.84 L179.75,234.79 L180.00,234.73 L180.25,234.68 L180.50,234.62 L180.75,234.58 L181.00,234.53 L181.25,234.49 L181.50,234.45 L181.75,234.41 L182.00,234.38 L182.25,234.35 L182.50,234.31 L182.75,234.28 L183.00,234.25 L183.25,234.22 L183.50,234.19 L183.75,234.15 L184.00,234.11 L184.25,234.07 L184.50,234.02 L184.75,233.97 L185.00,233.91 L185.25,233.84 L185.50,233.77 L185.75,233.69 L186.00,233.61 L186.25,233.52 L186.50,233.44 L186.75,233.35 L187.00,233.26 L187.25,233.17 L187.50,233.08 L187.75,232.99 L188.00,232.91 L188.25,232.83 L188.50,232.75 L188.75,232.68 L189.00,232.61 L189.25,232.55 L189.50,232.48 L189.75,232.42 L190.00,232.36 L190.25,232.30 L190.50,232.23 L190.75,232.17 L191.00,232.10 L191.25,232.02 L191.50,231.94 L191.75,231.86 L192.00,231.77 L192.25,231.68 L192.50,231.58 L192.75,231.48 L193.00,231.38 L193.25,231.28 L193.50,231.18 L193.75,231.08 L194.00,230.97 L194.25,230.87 L194.50,230.77 L194.75,230.67 L195.00,230.57 L195.25,230.47 L195.50,230.37 L195.75,230.27 L196.00,230.17 L196.25,230.07 L196.50,229.97 L196.75,229.86 L197.00,229.76 L197.25,229.65 L197.50,229.54 L197.75,229.43 L198.00,229.31 L198.25,229.19 L198.50,229.07 L198.75,228.94 L199.00,228.81 L199.25,228.68 L199.50,228.54 L199.75,228.40 L200.00,228.26 L200.25,228.11 L200.50,227.97 L200.75,227.82 L201.00,227.67 L201.25,227.51 L201.50,227.36 L201.75,227.20 L202.00,227.04 L202.25,226.88 L202.50,226.71 L202.75,226.54 L203.00,226.37 L203.25,226.19 L203.50,226.01 L203.75,225.82 L204.00,225.63 L204.25,225.43 L204.50,225.23 L204.75,225.02 L205.00,224.80 L205.25,224.57 L205.50,224.33 L205.75,224.08 L206.00,223.82 L206.25,223.55 L206.50,223.26 L206.75,222.97 L207.00,222.66 L207.25,222.35 L207.50,222.03 L207.75,221.71 L208.00,221.38 L208.25,221.04 L208.50,220.70 L208.75,220.35 L209.00,220.00 L209.25,219.65 L209.50,219.29 L209.75,218.92 L210.00,218.55 L210.25,218.16 L210.50,217.76 L210.75,217.35 L211.00,216.92 L211.25,216.47 L211.50,216.00 L211.75,215.51 L212.00,215.00 L212.25,214.45 L212.50,213.86 L212.75,213.24 L213.00,212.57 L213.25,211.88 L213.50,211.15 L213.75,210.40 L214.00,209.62 L214.25,208.82 L214.50,208.00 L214.75,207.14 L215.00,206.22 L215.25,205.26 L215.50,204.25 L215.75,203.22 L216.00,202.16 L216.25,201.08 L216.50,200.00 L216.75,198.91 L217.00,197.79 L217.25,196.65 L217.50,195.47 L217.75,194.26 L218.00,193.00 L218.25,191.71 L218.50,190.35 L218.75,188.92 L219.00,187.35 L219.25,185.54 L219.50,183.60 L219.75,181.70 L220.00,180.00 L220.25,178.49 L220.50,177.06 L220.75,175.69 L221.00,174.40 L221.25,173.17 L221.50,172.00 L221.75,170.86 L222.00,169.74 L222.25,168.66 L222.50,167.67 L222.75,166.77 L223.00,166.00 L223.25,165.32 L223.50,164.68 L223.75,164.12 L224.00,163.67 L224.25,163.35 L224.50,163.08 L224.75,162.88 L225.00,162.80 L225.25,162.89 L225.50,163.09 L225.75,163.35 L226.00,163.62 L226.25,163.94 L226.50,164.33 L226.75,164.78 L227.00,165.29 L227.25,165.88 L227.50,166.60 L227.75,167.60 L228.00,168.79 L228.25,170.09 L228.50,171.44 L228.75,172.75 L229.00,174.01 L229.25,175.32 L229.50,176.67 L229.75,178.03 L230.00,179.39 L230.25,180.73 L230.50,182.06 L230.75,183.40 L231.00,184.74 L231.25,186.07 L231.50,187.39 L231.75,188.70 L232.00,190.00 L232.25,191.30 L232.50,192.62 L232.75,193.93 L233.00,195.23 L233.25,196.51 L233.50,197.74 L233.75,198.90 L234.00,200.00 L234.25,201.04 L234.50,202.06 L234.75,203.04 L235.00,204.00 L235.25,204.93 L235.50,205.82 L235.75,206.67 L236.00,207.49 L236.25,208.27 L236.50,209.00 L236.75,209.70 L237.00,210.38 L237.25,211.03 L237.50,211.66 L237.75,212.27 L238.00,212.86 L238.25,213.43 L238.50,213.98 L238.75,214.51 L239.00,215.02 L239.25,215.52 L239.50,216.00 L239.75,216.46 L240.00,216.91 L240.25,217.34 L240.50,217.75 L240.75,218.16 L241.00,218.55 L241.25,218.92 L241.50,219.29 L241.75,219.65 L242.00,220.00 L242.25,220.34 L242.50,220.68 L242.75,221.02 L243.00,221.35 L243.25,221.67 L243.50,221.99 L243.75,222.31 L244.00,222.61 L244.25,222.91 L244.50,223.21 L244.75,223.49 L245.00,223.77 L245.25,224.04 L245.50,224.30 L245.75,224.56 L246.00,224.80 L246.25,225.04 L246.50,225.27 L246.75,225.49 L247.00,225.71 L247.25,225.92 L247.50,226.13 L247.75,226.33 L248.00,226.53 L248.25,226.73 L248.50,226.91 L248.75,227.10 L249.00,227.28 L249.25,227.46 L249.50,227.64 L249.75,227.81 L250.00,227.98 L250.25,228.15 L250.50,228.32 L250.75,228.49 L251.00,228.65 L251.25,228.81 L251.50,228.98 L251.75,229.14 L252.00,229.30 L252.25,229.46 L252.50,229.61 L252.75,229.77 L253.00,229.93 L253.25,230.08 L253.50,230.23 L253.75,230.38 L254.00,230.53 L254.25,230.68 L254.50,230.83 L254.75,230.98 L255.00,231.13 L255.25,231.28 L255.50,231.43 L255.75,231.57 L256.00,231.71 L256.25,231.85 L256.50,231.99 L256.75,232.11 L257.00,232.24 L257.25,232.35 L257.50,232.46 L257.75,232.56 L258.00,232.65 L258.25,232.74 L258.50,232.82 L258.75,232.89 L259.00,232.96 L259.25,233.02 L259.50,233.09 L259.75,233.15 L260.00,233.21 L260.25,233.28 L260.50,233.35 L260.75,233.42 L261.00,233.50 L261.25,233.59 L261.50,233.68 L261.75,233.78 L262.00,233.88 L262.25,233.98 L262.50,234.09 L262.75,234.20 L263.00,234.31 L263.25,234.41 L263.50,234.52 L263.75,234.61 L264.00,234.71 L264.25,234.79 L264.50,234.87 L264.75,234.94 L265.00,235.00 L265.25,235.06 L265.50,235.11 L265.75,235.16 L266.00,235.21 L266.25,235.25 L266.50,235.29 L266.75,235.34 L267.00,235.38 L267.25,235.42 L267.50,235.47 L267.75,235.51 L268.00,235.56 L268.25,235.61 L268.50,235.67 L268.75,235.73 L269.00,235.80 L269.25,235.88 L269.50,235.96 L269.75,236.04 L270.00,236.12 L270.25,236.21 L270.50,236.29 L270.75,236.38 L271.00,236.46 L271.25,236.54 L271.50,236.62 L271.75,236.69 L272.00,236.75 L272.25,236.81 L272.50,236.86 L272.75,236.90 L273.00,236.93 L273.25,236.96 L273.50,236.98 L273.75,237.00 L274.00,237.01 L274.25,237.01 L274.50,237.01 L274.75,237.00 L275.00,236.99 L275.25,236.97 L275.50,236.96 L275.75,236.94 L276.00,236.93 L276.25,236.92 L276.50,236.92 L276.75,236.93 L277.00,236.94 L277.25,236.95 L277.50,236.97 L277.75,236.99 L278.00,237.02 L278.25,237.05 L278.50,237.09 L278.75,237.13 L279.00,237.18 L279.25,237.23 L279.50,237.29 L279.75,237.35 L280.00,237.42 L280.25,237.49 L280.50,237.56 L280.75,237.62 L281.00,237.69 L281.25,237.75 L281.50,237.81 L281.75,237.87 L282.00,237.93 L282.25,237.98 L282.50,238.03 L282.75,238.08 L283.00,238.13 L283.25,238.17 L283.50,238.21 L283.75,238.25 L284.00,238.29 L284.25,238.33 L284.50,238.36 L284.75,238.40 L285.00,238.42 L285.25,238.45 L285.50,238.46 L285.75,238.48 L286.00,238.48 L286.25,238.49 L286.50,238.50 L286.75,238.50 L287.00,238.51 L287.25,238.51 L287.50,238.51 L287.75,238.52 L288.00,238.52 L288.25,238.52 L288.50,238.52 L288.75,238.52 L289.00,238.51 L289.25,238.51 L289.50,238.51 L289.75,238.52 L290.00,238.52 L290.25,238.52 L290.50,238.52 L290.75,238.51 L291.00,238.51 L291.25,238.51 L291.50,238.50 L291.75,238.50 L292.00,238.49 L292.25,238.49 L292.50,238.48 L292.75,238.47 L293.00,238.47 L293.25,238.47 L293.50,238.48 L293.75,238.48 L294.00,238.50 L294.25,238.52 L294.50,238.54 L294.75,238.57 L295.00,238.61 L295.25,238.65 L295.50,238.69 L295.75,238.73 L296.00,238.77 L296.25,238.81 L296.50,238.84 L296.75,238.87 L297.00,238.90 L297.25,238.93 L297.50,238.95 L297.75,238.96 L298.00,238.97 L298.25,238.98 L298.50,238.99 L298.75,238.99 L299.00,238.99 L299.25,238.99 L299.50,238.99 L299.75,239.00 L300.00,239.01 L300.25,239.02 L300.50,239.03 L300.75,239.05 L301.00,239.07 L301.25,239.10 L301.50,239.13 L301.75,239.17 L302.00,239.21 L302.25,239.25 L302.50,239.28 L302.75,239.32 L303.00,239.36 L303.25,239.39 L303.50,239.42 L303.75,239.45 L304.00,239.47 L304.25,239.48 L304.50,239.50 L304.75,239.50 L305.00,239.51 L305.25,239.51 L305.50,239.51 L305.75,239.51 L306.00,239.51 L306.25,239.50 L306.50,239.50 L306.75,239.49 L307.00,239.49 L307.25,239.49 L307.50,239.49 L307.75,239.49 L308.00,239.49 L308.25,239.49 L308.50,239.49 L308.75,239.50 L309.00,239.50 L309.25,239.51 L309.50,239.52 L309.75,239.52 L310.00,239.53 L310.25,239.55 L310.50,239.56 L310.75,239.57 L311.00,239.59 L311.25,239.61 L311.50,239.63 L311.75,239.66 L312.00,239.68 L312.25,239.72 L312.50,239.75 L312.75,239.78 L313.00,239.82 L313.25,239.85 L313.50,239.89 L313.75,239.92 L314.00,239.96 L314.25,239.99 L314.50,240.02 L314.75,240.05 L315.00,240.08 L315.25,240.11 L315.50,240.13 L315.75,240.15 L316.00,240.16 L316.25,240.17 L316.50,240.18 L316.75,240.19 L317.00,240.19 L317.25,240.19 L317.50,240.19 L317.75,240.18 L318.00,240.18 L318.25,240.18 L318.50,240.18 L318.75,240.17 L319.00,240.17 L319.25,240.18 L319.50,240.18 L319.75,240.18 L320.00,240.18 L320.25,240.18 L320.50,240.17 L320.75,240.17 L321.00,240.17 L321.25,240.17 L321.50,240.16 L321.75,240.16 L322.00,240.16 L322.25,240.16 L322.50,240.17 L322.75,240.17 L323.00,240.18 L323.25,240.18 L323.50,240.19 L323.75,240.20 L324.00,240.21 L324.25,240.22 L324.50,240.24 L324.75,240.25 L325.00,240.27 L325.25,240.30 L325.50,240.32 L325.75,240.34 L326.00,240.36 L326.25,240.38 L326.50,240.40 L326.75,240.42 L327.00,240.45 L327.25,240.48 L327.50,240.51 L327.75,240.54 L328.00,240.57 L328.25,240.61 L328.50,240.64 L328.75,240.68 L329.00,240.71 L329.25,240.75 L329.50,240.78 L329.75,240.82 L330.00,240.85 L330.25,240.87 L330.50,240.90 L330.75,240.92 L331.00,240.93 L331.25,240.94 L331.50,240.94 L331.75,240.94 L332.00,240.93 L332.25,240.92 L332.50,240.90 L332.75,240.88 L333.00,240.86 L333.25,240.84 L333.50,240.81 L333.75,240.79 L334.00,240.77 L334.25,240.75 L334.50,240.74 L334.75,240.73 L335.00,240.73 L335.25,240.73 L335.50,240.74 L335.75,240.75 L336.00,240.76 L336.25,240.76 L336.50,240.77 L336.75,240.79 L337.00,240.80 L337.25,240.81 L337.50,240.83 L337.75,240.84 L338.00,240.86 L338.25,240.89 L338.50,240.91 L338.75,240.95 L339.00,240.98 L339.25,241.02 L339.50,241.06 L339.75,241.10 L340.00,241.14 L340.25,241.18 L340.50,241.22 L340.75,241.25 L341.00,241.29 L341.25,241.32 L341.50,241.35 L341.75,241.37 L342.00,241.39 L342.25,241.40 L342.50,241.40 L342.75,241.40 L343.00,241.39 L343.25,241.37 L343.50,241.36 L343.75,241.33 L344.00,241.30 L344.25,241.27 L344.50,241.24 L344.75,241.22 L345.00,241.19 L345.25,241.18 L345.50,241.16 L345.75,241.15 L346.00,241.14 L346.25,241.13 L346.50,241.13 L346.75,241.13 L347.00,241.13 L347.25,241.13 L347.50,241.13 L347.75,241.14 L348.00,241.14 L348.25,241.15 L348.50,241.16 L348.75,241.18 L349.00,241.20 L349.25,241.22 L349.50,241.24 L349.75,241.27 L350.00,241.30 L350.25,241.33 L350.50,241.36 L350.75,241.39 L351.00,241.42 L351.25,241.44 L351.50,241.47 L351.75,241.49 L352.00,241.52 L352.25,241.54 L352.50,241.57 L352.75,241.59 L353.00,241.62 L353.25,241.64 L353.50,241.67 L353.75,241.70 L354.00,241.72 L354.25,241.74 L354.50,241.77 L354.75,241.79 L355.00,241.81 L355.25,241.84 L355.50,241.86 L355.75,241.88 L356.00,241.91 L356.25,241.93 L356.50,241.96 L356.75,241.98 L357.00,242.00 L357.25,242.02 L357.50,242.05 L357.75,242.07 L358.00,242.09 L358.25,242.11 L358.50,242.14 L358.75,242.16 L359.00,242.18 L359.25,242.20 L359.50,242.23 L359.75,242.25 L360.00,242.28 L360.25,242.30 L360.50,242.32 L360.75,242.33 L361.00,242.34 L361.25,242.35 L361.50,242.35 L361.75,242.35 L362.00,242.34 L362.25,242.33 L362.50,242.31 L362.75,242.30 L363.00,242.28 L363.25,242.26 L363.50,242.23 L363.75,242.21 L364.00,242.19 L364.25,242.17 L364.50,242.16 L364.75,242.14 L365.00,242.14 L365.25,242.13 L365.50,242.14 L365.75,242.14 L366.00,242.16 L366.25,242.17 L366.50,242.19 L366.75,242.21 L367.00,242.23 L367.25,242.25 L367.50,242.27 L367.75,242.29 L368.00,242.31 L368.25,242.33 L368.50,242.34 L368.75,242.35 L369.00,242.36 L369.25,242.37 L369.50,242.37 L369.75,242.38 L370.00,242.38 L370.25,242.38 L370.50,242.38 L370.75,242.39 L371.00,242.39 L371.25,242.39 L371.50,242.40 L371.75,242.40 L372.00,242.41 L372.25,242.42 L372.50,242.44 L372.75,242.45 L373.00,242.48 L373.25,242.50 L373.50,242.52 L373.75,242.54 L374.00,242.56 L374.25,242.58 L374.50,242.60 L374.75,242.62 L375.00,242.63 L375.25,242.64 L375.50,242.65 L375.75,242.66 L376.00,242.67 L376.25,242.67 L376.50,242.67 L376.75,242.67 L377.00,242.67 L377.25,242.66 L377.50,242.65 L377.75,242.65 L378.00,242.64 L378.25,242.63 L378.50,242.63 L378.75,242.63 L379.00,242.62 L379.25,242.62 L379.50,242.63 L379.75,242.63 L380.00,242.64 L380.25,242.65 L380.50,242.67 L380.75,242.68 L381.00,242.70 L381.25,242.72 L381.50,242.74 L381.75,242.76 L382.00,242.77 L382.25,242.79 L382.50,242.81 L382.75,242.84 L383.00,242.86 L383.25,242.88 L383.50,242.90 L383.75,242.92 L384.00,242.94 L384.25,242.96 L384.50,242.98 L384.75,243.01 L385.00,243.03 L385.25,243.05 L385.50,243.07 L385.75,243.08 L386.00,243.10 L386.25,243.12 L386.50,243.13 L386.75,243.14 L387.00,243.15 L387.25,243.17 L387.50,243.18 L387.75,243.20 L388.00,243.22 L388.25,243.24 L388.50,243.26" stroke="#ff22ff"/>
</g>
<rect x="301.3" y="144.7" width="83.9" height="79.8" fill="#fff" stroke="#111" stroke-width="1"/>
<path d="M309.3,160.60 H343.8" stroke="#fa1616" stroke-width="1.45"/>
<path d="M309.3,176.35 H343.8" stroke="#20ec20" stroke-width="1.45"/>
<path d="M309.3,192.10 H343.8" stroke="#2626ff" stroke-width="1.45"/>
<path d="M309.3,207.85 H343.8" stroke="#ff26ff" stroke-width="1.45"/>
<rect x="57.0" y="7.4" width="331.5" height="245.54999999999998" fill="none" stroke="#000" stroke-width="1.2"/>
<path d="M57.00,252.95 v5.2 M139.88,252.95 v5.2 M222.75,252.95 v5.2 M305.62,252.95 v5.2 M388.50,252.95 v5.2 M98.44,252.95 v3.3 M181.31,252.95 v3.3 M264.19,252.95 v3.3 M347.06,252.95 v3.3 M57.0,219.50 h-5.2 M57.0,163.66 h-5.2 M57.0,107.83 h-5.2 M57.0,52.00 h-5.2 M57.0,247.42 h-3.3 M57.0,191.58 h-3.3 M57.0,135.75 h-3.3 M57.0,79.91 h-3.3 M57.0,24.08 h-3.3" stroke="#111" stroke-width="1.2" fill="none"/>
<clipPath id="ct"><rect x="0" y="0" width="387.85" height="300"/></clipPath>
<g filter="url(#gs)" text-rendering="geometricPrecision">
<text x="108.2" y="124.9" font-size="7.8" text-anchor="middle">-0.5</text>
<text x="147.4" y="124.9" font-size="7.8" text-anchor="middle">0.0</text>
<text x="186.6" y="124.9" font-size="7.8" text-anchor="middle">0.5</text>
<text x="84.4" y="95.1" font-size="7.8" text-anchor="end">22</text>
<text x="84.4" y="65.6" font-size="7.8" text-anchor="end">24</text>
<text x="84.4" y="36.1" font-size="7.8" text-anchor="end">26</text>
<text x="148" y="133.7" font-size="10.4" text-anchor="middle">V (mV)</text>
<text transform="translate(70.6,66.2) rotate(-90)" font-size="10.5" text-anchor="middle">G (mS)</text>
<text x="91.7" y="28.2" font-size="10.4">(a)</text>
<text x="151.3" y="79.7" font-size="10.9" word-spacing="0.6">0 T</text>
<text x="151.3" y="92.8" font-size="10.9" word-spacing="0.6">0.1 T</text>
<text x="384.4" y="120.9" font-size="7.8" text-anchor="middle" clip-path="url(#ct)">20</text>
<text x="260.6" y="120.9" font-size="7.8" text-anchor="middle">-20</text>
<text x="291.5" y="120.9" font-size="7.8" text-anchor="middle">-10</text>
<text x="322.5" y="120.9" font-size="7.8" text-anchor="middle">0</text>
<text x="353.5" y="120.9" font-size="7.8" text-anchor="middle">10</text>
<text x="257.0" y="103.3" font-size="7.8" text-anchor="end">1.0</text>
<text x="257.0" y="81.3" font-size="7.8" text-anchor="end">1.5</text>
<text x="257.0" y="59.3" font-size="7.8" text-anchor="end">2.0</text>
<text x="257.0" y="37.3" font-size="7.8" text-anchor="end">2.5</text>
<text x="257.0" y="15.2" font-size="7.8" text-anchor="end">3.0</text>
<text x="324.3" y="131.1" font-size="10.3" text-anchor="middle">V (mV)</text>
<text transform="translate(238.7,76.8) rotate(-90)" font-size="10.5">G/G<tspan font-size="5.4" dy="4.8" dx="0.8">N</tspan></text>
<text x="365.3" y="27.6" font-size="10.8">(b)</text>
<text x="264.2" y="45.1" font-size="10.6"><tspan font-family="Liberation Serif, serif" font-size="9.7">Δ</tspan><tspan font-size="6.4" dy="4.5">SC</tspan><tspan x="279.9" dy="-4.5">=7 meV</tspan></text>
<text x="264.5" y="59.1" font-size="10.6">Z = 1.2</text>
<text x="264.0" y="72" font-size="10.6"><tspan font-family="Liberation Serif, serif" font-size="12.2">α</tspan><tspan x="272.8">= </tspan><tspan font-family="Liberation Serif, serif" font-size="11.5">π</tspan>/6</text>
<text x="346.7" y="165.10" font-size="13.7">0 T</text>
<text x="346.7" y="180.85" font-size="13.7">0.1 T</text>
<text x="346.7" y="196.60" font-size="13.7">0.5 T</text>
<text x="346.7" y="212.35" font-size="13.7">1 T</text>
<text x="57.0" y="270.8" font-size="13" text-anchor="middle">-20.0</text>
<text x="139.9" y="270.8" font-size="13" text-anchor="middle">-10.0</text>
<text x="222.8" y="270.8" font-size="13" text-anchor="middle">0.0</text>
<text x="305.6" y="270.8" font-size="13" text-anchor="middle">10.0</text>
<text x="388.5" y="270.8" font-size="13" text-anchor="middle">20.0</text>
<text x="49.0" y="222.9" font-size="13.3" text-anchor="end">10</text>
<text x="49.0" y="167.1" font-size="13.3" text-anchor="end">15</text>
<text x="49.0" y="111.2" font-size="13.3" text-anchor="end">20</text>
<text x="49.0" y="55.4" font-size="13.3" text-anchor="end">25</text>
<text x="222.7" y="291.2" font-size="19.5" text-anchor="middle">V (mV)</text>
<text transform="translate(21.8,142.8) rotate(-90)" font-size="19.5" text-anchor="middle">G (mS)</text>
</g>
</g></svg>
</body></html>
